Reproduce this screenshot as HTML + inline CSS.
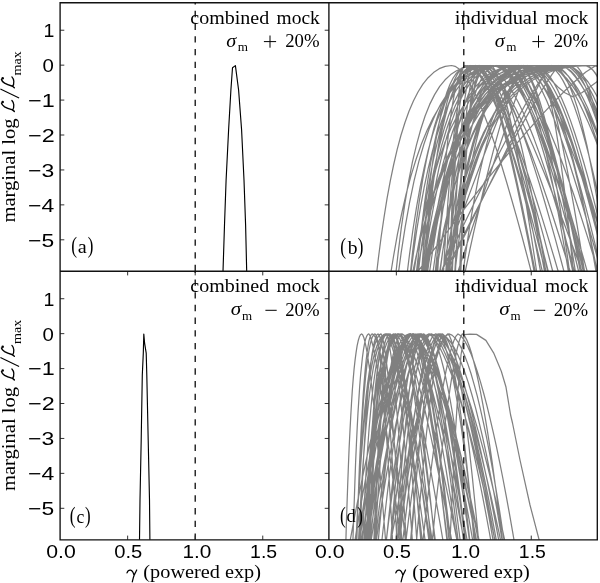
<!DOCTYPE html>
<html><head><meta charset="utf-8"><style>html,body{margin:0;padding:0;background:#fff;}svg{display:block;filter:grayscale(1);}</style></head>
<body><svg width="600" height="583" viewBox="0 0 600 583">
<rect x="0" y="0" width="600" height="583" fill="#fff"/>
<defs><clipPath id="cb"><rect x="328.9" y="2.7" width="268.4" height="268.5"/></clipPath><clipPath id="cd"><rect x="328.9" y="271.2" width="268.4" height="268.6"/></clipPath><clipPath id="ca"><rect x="60.1" y="2.7" width="268.8" height="268.5"/></clipPath><clipPath id="cc"><rect x="60.1" y="271.2" width="268.8" height="268.6"/></clipPath></defs>
<path d="M223.00,271.50 L224.50,225.00 L226.10,180.00 L228.60,130.00 L230.90,90.00 L232.50,67.70 L235.40,65.60 L238.60,90.00 L241.60,130.00 L244.00,180.00 L245.60,225.00 L246.70,271.50" stroke="#000" stroke-width="1.15" fill="none" stroke-linejoin="round" clip-path="url(#ca)"/>
<path d="M139.50,540.20 L140.00,500.00 L141.20,440.00 L142.30,375.00 L143.30,353.10 L143.80,334.00 L144.60,343.10 L146.20,353.10 L146.80,375.00 L148.20,440.00 L149.50,500.00 L149.90,540.20" stroke="#000" stroke-width="1.15" fill="none" stroke-linejoin="round" clip-path="url(#cc)"/>
<path d="M345.7,548.0L346.3,525.8L347.0,504.7L347.7,484.8L348.4,466.1L349.1,448.6L349.9,432.2L350.7,417.1L351.5,403.2L352.3,390.5L353.2,379.1L354.1,368.9L355.1,359.9L356.1,352.3L357.1,345.9L358.2,340.8L359.3,337.1L360.4,334.8L361.6,333.9L362.6,334.8L363.7,337.2L364.8,341.1L365.9,346.2L367.1,352.7L368.3,360.5L369.6,369.5L370.9,379.8L372.2,391.3L373.6,404.0L375.0,417.9L376.4,433.0L377.9,449.3L379.5,466.7L381.1,485.3L382.7,505.0L384.4,525.9L386.2,547.9M352.7,548.5L353.4,524.9L354.2,502.7L354.9,481.9L355.6,462.5L356.4,444.5L357.2,427.8L358.0,412.6L358.9,398.7L359.7,386.2L360.6,375.0L361.6,365.2L362.5,356.8L363.5,349.7L364.5,343.9L365.5,339.5L366.6,336.4L367.7,334.5L368.8,333.9L370.2,336.0L371.5,340.3L373.0,346.0L374.5,353.1L376.0,361.3L377.6,370.6L379.3,380.9L381.0,392.1L382.7,404.1L384.6,417.0L386.4,430.7L388.4,445.1L390.4,460.3L392.5,476.2L394.6,492.8L396.9,510.1L399.2,528.1L401.5,546.7M356.6,547.9L357.3,526.0L358.0,505.2L358.7,485.6L359.4,467.1L360.2,449.7L361.0,433.5L361.8,418.4L362.6,404.5L363.4,391.8L364.3,380.2L365.2,369.9L366.1,360.8L367.0,353.0L368.0,346.5L368.9,341.2L369.9,337.3L371.0,334.9L372.0,333.9L373.4,334.6L374.9,336.6L376.4,340.0L378.0,344.7L379.6,350.7L381.3,358.0L383.0,366.6L384.8,376.6L386.6,387.8L388.5,400.4L390.5,414.3L392.5,429.5L394.6,446.1L396.8,463.9L399.1,483.0L401.4,503.5L403.8,525.3L406.2,548.3M356.3,548.2L357.1,525.5L358.0,504.2L358.8,484.0L359.7,465.1L360.6,447.4L361.5,431.0L362.5,415.9L363.4,402.0L364.5,389.3L365.5,378.0L366.6,367.9L367.7,359.0L368.8,351.5L370.0,345.3L371.2,340.4L372.4,336.9L373.7,334.7L375.0,333.9L375.8,334.8L376.7,337.2L377.6,340.9L378.5,346.0L379.4,352.4L380.3,360.2L381.3,369.1L382.2,379.4L383.2,390.8L384.2,403.5L385.2,417.4L386.3,432.6L387.3,448.9L388.4,466.3L389.5,485.0L390.6,504.8L391.8,525.8L392.9,548.0M359.7,547.7L360.5,526.4L361.3,506.2L362.2,486.9L363.0,468.8L363.9,451.6L364.9,435.6L365.8,420.6L366.8,406.7L367.8,393.9L368.8,382.3L369.8,371.8L370.9,362.5L372.0,354.4L373.2,347.5L374.3,342.0L375.5,337.8L376.7,335.0L378.0,333.9L378.9,334.6L379.8,336.7L380.8,340.1L381.8,344.8L382.8,350.8L383.8,358.1L384.8,366.8L385.8,376.8L386.9,388.1L388.0,400.7L389.1,414.6L390.2,429.8L391.3,446.3L392.5,464.1L393.7,483.2L394.9,503.6L396.1,525.3L397.4,548.3M355.7,547.5L356.7,526.6L357.7,506.7L358.8,487.8L359.9,469.8L361.1,452.9L362.3,436.9L363.6,422.0L364.9,408.1L366.2,395.3L367.6,383.6L369.1,373.0L370.6,363.6L372.2,355.3L373.8,348.2L375.5,342.5L377.3,338.1L379.1,335.1L381.0,333.9L382.0,335.8L383.0,339.7L384.1,345.2L385.1,352.0L386.2,360.0L387.3,369.1L388.4,379.2L389.6,390.2L390.7,402.2L391.9,415.1L393.1,428.9L394.3,443.4L395.6,458.8L396.9,474.9L398.2,491.8L399.5,509.4L400.9,527.8L402.3,546.8M367.2,547.4L368.0,526.8L368.9,507.2L369.7,488.5L370.6,470.7L371.5,453.9L372.4,438.0L373.3,423.2L374.3,409.3L375.3,396.5L376.3,384.7L377.3,374.0L378.3,364.4L379.4,356.0L380.4,348.8L381.5,342.9L382.7,338.3L383.8,335.2L385.0,333.9L386.7,335.0L388.5,337.8L390.4,342.1L392.3,347.7L394.3,354.6L396.3,362.8L398.4,372.1L400.5,382.6L402.8,394.3L405.0,407.1L407.4,421.0L409.8,435.9L412.4,452.0L414.9,469.1L417.6,487.2L420.4,506.3L423.2,526.5L426.1,547.6M365.7,551.1L368.2,530.2L370.6,510.3L373.1,491.3L375.5,473.3L378.0,456.2L380.4,440.1L382.9,424.9L385.3,410.8L387.8,397.8L390.2,385.8L392.7,374.9L395.2,365.1L397.6,356.6L400.1,349.2L402.5,343.1L405.0,338.4L407.4,335.3L409.9,333.9L412.0,337.1L414.2,342.5L416.3,349.5L418.5,357.7L420.6,366.9L422.8,377.0L425.0,387.9L427.1,399.5L429.3,411.9L431.4,424.9L433.6,438.5L435.7,452.7L437.9,467.5L440.0,482.9L442.2,498.7L444.3,515.0L446.5,531.9L448.6,549.2M363.5,550.1L366.4,531.1L369.3,512.7L372.2,495.1L375.1,478.1L378.0,461.9L380.9,446.4L383.8,431.7L386.7,417.8L389.7,404.7L392.6,392.5L395.5,381.2L398.4,370.8L401.3,361.4L404.2,353.1L407.1,346.0L410.0,340.2L412.9,336.0L415.8,333.9L417.8,336.7L419.8,341.8L421.7,348.4L423.7,356.3L425.7,365.2L427.7,375.1L429.7,385.9L431.7,397.5L433.6,409.8L435.6,422.8L437.6,436.6L439.6,450.9L441.6,465.9L443.6,481.5L445.5,497.7L447.5,514.4L449.5,531.6L451.5,549.4M399.0,551.3L401.0,530.0L403.1,509.7L405.1,490.5L407.2,472.2L409.2,454.9L411.3,438.6L413.3,423.5L415.4,409.3L417.4,396.3L419.4,384.4L421.5,373.6L423.5,364.0L425.6,355.6L427.6,348.4L429.7,342.6L431.7,338.1L433.8,335.1L435.8,333.9L439.8,336.4L443.7,341.1L447.6,347.3L451.6,354.8L455.5,363.5L459.5,373.2L463.4,383.8L467.3,395.2L471.3,407.5L475.2,420.6L479.2,434.4L483.1,448.9L487.0,464.2L491.0,480.0L494.9,496.5L498.9,513.7L502.8,531.4L506.7,549.7M348.4,550.0L351.9,531.1L355.3,513.0L358.8,495.4L362.2,478.6L365.7,462.4L369.1,447.0L372.6,432.3L376.1,418.4L379.5,405.4L383.0,393.1L386.4,381.8L389.9,371.3L393.3,361.9L396.8,353.5L400.2,346.3L403.7,340.4L407.2,336.1L410.6,333.9L412.8,335.1L415.0,337.9L417.2,342.2L419.4,347.9L421.6,354.9L423.8,363.2L426.0,372.7L428.2,383.4L430.4,395.3L432.6,408.3L434.8,422.4L437.0,437.6L439.2,454.0L441.4,471.4L443.6,489.8L445.8,509.4L448.0,529.9L450.2,551.5M360.7,551.9L363.6,529.5L366.5,508.3L369.4,488.2L372.3,469.3L375.2,451.6L378.1,435.0L381.0,419.7L383.9,405.5L386.8,392.6L389.7,380.8L392.6,370.4L395.5,361.1L398.4,353.2L401.3,346.6L404.2,341.3L407.1,337.3L410.0,334.9L412.9,333.9L414.9,336.7L416.8,341.8L418.8,348.4L420.7,356.3L422.7,365.2L424.6,375.1L426.6,385.9L428.5,397.5L430.4,409.8L432.4,422.8L434.3,436.6L436.3,450.9L438.2,465.9L440.2,481.5L442.1,497.7L444.1,514.4L446.0,531.6L448.0,549.4M380.9,549.8L382.9,531.3L385.0,513.5L387.0,496.2L389.0,479.6L391.0,463.7L393.0,448.4L395.1,433.8L397.1,420.0L399.1,406.9L401.1,394.6L403.2,383.2L405.2,372.6L407.2,363.0L409.2,354.5L411.2,347.0L413.3,340.9L415.3,336.3L417.3,333.9L420.8,336.4L424.3,341.1L427.8,347.4L431.2,355.0L434.7,363.6L438.2,373.3L441.7,383.9L445.2,395.4L448.7,407.7L452.2,420.8L455.6,434.6L459.1,449.1L462.6,464.3L466.1,480.2L469.6,496.6L473.1,513.7L476.6,531.4L480.0,549.7M373.9,548.1L374.9,525.7L375.9,504.5L376.9,484.5L377.9,465.7L379.0,448.1L380.1,431.7L381.2,416.6L382.3,402.7L383.5,390.0L384.7,378.6L385.9,368.4L387.1,359.6L388.4,352.0L389.7,345.6L391.0,340.7L392.4,337.0L393.7,334.8L395.2,333.9L396.4,335.5L397.7,339.1L398.9,344.1L400.3,350.5L401.6,358.2L402.9,367.0L404.3,376.9L405.7,387.8L407.2,399.7L408.6,412.5L410.1,426.3L411.7,441.0L413.2,456.6L414.8,473.1L416.4,490.4L418.0,508.5L419.7,527.4L421.4,547.1M362.6,550.2L365.4,531.0L368.2,512.5L371.1,494.7L373.9,477.6L376.7,461.3L379.5,445.8L382.3,431.0L385.1,417.1L387.9,404.0L390.7,391.8L393.5,380.5L396.3,370.2L399.1,360.9L401.9,352.7L404.7,345.7L407.5,340.0L410.3,335.9L413.2,333.9L415.7,334.9L418.3,337.5L420.9,341.5L423.4,346.8L426.0,353.6L428.6,361.6L431.1,370.9L433.7,381.4L436.3,393.2L438.8,406.1L441.4,420.3L444.0,435.6L446.5,452.1L449.1,469.8L451.7,488.6L454.2,508.5L456.8,529.6L459.4,551.8M374.0,551.5L376.5,529.9L379.0,509.3L381.6,489.7L384.1,471.2L386.7,453.8L389.2,437.4L391.7,422.2L394.3,408.0L396.8,395.0L399.3,383.1L401.9,372.5L404.4,363.0L407.0,354.7L409.5,347.8L412.0,342.1L414.6,337.8L417.1,335.0L419.6,333.9L422.7,336.8L425.7,342.1L428.7,348.8L431.8,356.8L434.8,365.8L437.8,375.8L440.9,386.6L443.9,398.2L446.9,410.6L450.0,423.6L453.0,437.3L456.0,451.6L459.1,466.5L462.1,482.0L465.1,498.0L468.2,514.6L471.2,531.7L474.2,549.3M396.5,551.4L398.3,530.0L400.1,509.6L401.9,490.3L403.6,471.9L405.4,454.6L407.2,438.4L409.0,423.2L410.8,409.0L412.6,396.0L414.3,384.1L416.1,373.3L417.9,363.7L419.7,355.4L421.5,348.3L423.3,342.5L425.0,338.0L426.8,335.1L428.6,333.9L432.4,336.6L436.2,341.5L440.0,348.0L443.8,355.7L447.6,364.5L451.4,374.3L455.2,385.0L459.0,396.6L462.8,408.9L466.6,421.9L470.4,435.7L474.2,450.1L478.0,465.2L481.8,480.9L485.6,497.2L489.3,514.1L493.1,531.5L496.9,549.5M368.6,548.7L369.6,524.7L370.5,502.1L371.6,481.0L372.6,461.4L373.7,443.2L374.8,426.5L375.9,411.2L377.0,397.3L378.2,384.9L379.4,373.8L380.7,364.2L381.9,355.9L383.2,349.0L384.5,343.4L385.9,339.2L387.3,336.2L388.7,334.5L390.2,333.9L392.0,335.6L393.9,339.3L395.9,344.5L397.9,351.0L399.9,358.8L402.1,367.6L404.3,377.6L406.5,388.6L408.9,400.5L411.3,413.4L413.7,427.2L416.3,441.8L418.9,457.3L421.6,473.7L424.4,490.8L427.2,508.8L430.2,527.5L433.2,547.0M363.5,548.1L364.9,525.6L366.4,504.3L368.0,484.3L369.7,465.4L371.4,447.8L373.2,431.4L375.1,416.3L377.0,402.4L379.1,389.7L381.2,378.3L383.4,368.2L385.7,359.3L388.1,351.8L390.6,345.5L393.2,340.6L395.9,337.0L398.7,334.7L401.7,333.9L404.1,335.2L406.5,338.3L409.0,342.9L411.6,348.9L414.3,356.1L417.1,364.5L420.0,374.1L422.9,384.8L426.0,396.6L429.1,409.4L432.4,423.3L435.8,438.1L439.2,454.0L442.8,470.8L446.5,488.6L450.3,507.2L454.3,526.9L458.4,547.4M369.9,548.7L370.8,524.6L371.7,502.0L372.7,480.8L373.7,461.1L374.7,442.9L375.7,426.2L376.8,410.9L377.8,397.0L378.9,384.6L380.1,373.5L381.2,363.9L382.4,355.7L383.6,348.8L384.8,343.3L386.1,339.1L387.3,336.1L388.6,334.5L390.0,333.9L391.1,335.5L392.2,339.1L393.3,344.2L394.5,350.6L395.6,358.2L396.8,367.0L398.0,376.9L399.3,387.8L400.5,399.8L401.8,412.6L403.1,426.4L404.4,441.1L405.7,456.7L407.1,473.1L408.5,490.4L409.9,508.5L411.4,527.4L412.8,547.1M374.8,551.4L377.8,530.0L380.8,509.6L383.9,490.2L386.9,471.8L390.0,454.5L393.0,438.2L396.1,423.0L399.1,408.9L402.1,395.9L405.2,384.0L408.2,373.2L411.3,363.7L414.3,355.3L417.4,348.2L420.4,342.4L423.4,338.0L426.5,335.1L429.5,333.9L431.8,335.5L434.1,339.1L436.4,344.3L438.7,350.8L441.1,358.6L443.4,367.5L445.7,377.5L448.0,388.6L450.3,400.7L452.6,413.8L454.9,427.8L457.2,442.8L459.5,458.6L461.8,475.4L464.1,492.9L466.4,511.4L468.7,530.6L471.0,550.6M385.3,551.0L387.4,530.3L389.5,510.4L391.6,491.4L393.7,473.4L395.8,456.4L397.9,440.3L400.0,425.2L402.1,411.1L404.2,398.0L406.3,386.0L408.4,375.1L410.5,365.3L412.6,356.7L414.7,349.3L416.8,343.2L418.9,338.5L421.0,335.3L423.1,333.9L425.3,337.4L427.4,343.1L429.5,350.4L431.6,358.8L433.7,368.2L435.8,378.4L438.0,389.4L440.1,401.1L442.2,413.5L444.3,426.5L446.4,440.0L448.6,454.1L450.7,468.8L452.8,483.9L454.9,499.5L457.0,515.5L459.1,532.0L461.3,549.0M366.1,548.5L367.1,524.9L368.0,502.7L369.0,481.9L370.1,462.4L371.1,444.4L372.2,427.8L373.3,412.5L374.4,398.6L375.5,386.1L376.7,375.0L377.9,365.2L379.2,356.7L380.4,349.7L381.7,343.9L383.1,339.5L384.5,336.4L385.9,334.5L387.3,333.9L388.9,335.0L390.5,337.7L392.1,341.8L393.8,347.3L395.6,354.0L397.4,362.1L399.2,371.3L401.1,381.8L403.0,393.4L405.0,406.2L407.1,420.1L409.2,435.1L411.3,451.2L413.5,468.4L415.8,486.6L418.2,505.9L420.6,526.3L423.0,547.7M401.7,549.4L403.8,531.7L405.9,514.5L407.9,497.8L410.0,481.7L412.1,466.1L414.2,451.1L416.2,436.8L418.3,423.1L420.4,410.0L422.4,397.7L424.5,386.1L426.6,375.3L428.7,365.4L430.7,356.5L432.8,348.6L434.9,341.9L436.9,336.8L439.0,333.9L442.5,337.6L446.1,343.7L449.6,351.2L453.1,359.8L456.6,369.3L460.1,379.7L463.7,390.8L467.2,402.5L470.7,414.9L474.2,427.8L477.7,441.3L481.3,455.3L484.8,469.8L488.3,484.8L491.8,500.1L495.3,516.0L498.9,532.2L502.4,548.8M409.8,549.9L411.4,531.2L413.0,513.2L414.5,495.7L416.1,479.0L417.7,462.9L419.2,447.6L420.8,432.9L422.4,419.1L423.9,406.0L425.5,393.7L427.1,382.3L428.6,371.8L430.2,362.3L431.8,353.9L433.4,346.6L434.9,340.6L436.5,336.2L438.1,333.9L440.2,335.6L442.3,339.3L444.4,344.5L446.5,351.1L448.7,358.9L450.8,367.9L452.9,378.0L455.0,389.1L457.1,401.3L459.3,414.4L461.4,428.4L463.5,443.3L465.6,459.1L467.7,475.7L469.9,493.2L472.0,511.6L474.1,530.7L476.2,550.6M389.8,551.6L391.5,529.8L393.3,509.1L395.0,489.4L396.7,470.8L398.5,453.3L400.2,436.9L401.9,421.7L403.6,407.5L405.4,394.5L407.1,382.7L408.8,372.0L410.6,362.6L412.3,354.4L414.0,347.5L415.8,341.9L417.5,337.7L419.2,335.0L421.0,333.9L423.5,334.9L426.1,337.4L428.6,341.3L431.1,346.6L433.7,353.3L436.2,361.3L438.8,370.5L441.3,381.0L443.9,392.7L446.4,405.7L449.0,419.9L451.5,435.2L454.1,451.8L456.6,469.5L459.1,488.3L461.7,508.4L464.2,529.6L466.8,551.9M366.0,550.6L369.0,530.6L371.9,511.5L374.8,493.1L377.8,475.6L380.7,458.9L383.6,443.0L386.6,428.1L389.5,414.1L392.4,401.0L395.4,388.9L398.3,377.8L401.3,367.7L404.2,358.7L407.1,350.9L410.1,344.4L413.0,339.2L415.9,335.6L418.9,333.9L422.2,337.0L425.5,342.5L428.8,349.4L432.1,357.5L435.3,366.7L438.6,376.8L441.9,387.6L445.2,399.3L448.5,411.6L451.8,424.7L455.1,438.3L458.4,452.5L461.7,467.3L465.0,482.7L468.3,498.6L471.6,515.0L474.9,531.8L478.2,549.2M373.6,548.6L374.5,524.7L375.5,502.3L376.4,481.3L377.4,461.7L378.4,443.6L379.5,426.9L380.5,411.6L381.6,397.8L382.7,385.3L383.8,374.2L385.0,364.5L386.1,356.2L387.3,349.2L388.5,343.6L389.8,339.3L391.0,336.3L392.3,334.5L393.7,333.9L394.8,334.9L395.9,337.4L397.1,341.3L398.3,346.6L399.5,353.2L400.7,361.1L402.0,370.2L403.3,380.5L404.6,392.0L405.9,404.8L407.2,418.7L408.6,433.7L410.0,450.0L411.4,467.3L412.9,485.8L414.3,505.4L415.8,526.1L417.3,547.9M355.8,548.2L356.9,525.5L358.1,504.1L359.4,484.0L360.7,465.0L362.0,447.4L363.4,430.9L364.9,415.8L366.4,401.9L368.0,389.2L369.7,377.9L371.4,367.8L373.2,359.0L375.1,351.5L377.1,345.3L379.1,340.4L381.3,336.9L383.5,334.7L385.8,333.9L386.8,335.1L387.8,338.1L388.9,342.5L389.9,348.3L391.0,355.4L392.1,363.7L393.2,373.2L394.3,383.8L395.5,395.6L396.6,408.4L397.8,422.3L399.0,437.2L400.2,453.1L401.5,470.0L402.8,487.9L404.1,506.8L405.4,526.7L406.7,547.5M358.2,551.9L361.3,529.5L364.4,508.2L367.5,488.1L370.6,469.2L373.7,451.4L376.8,434.9L379.9,419.5L383.0,405.3L386.1,392.4L389.2,380.7L392.3,370.2L395.4,361.0L398.5,353.1L401.7,346.5L404.8,341.2L407.9,337.3L411.0,334.8L414.1,333.9L416.5,337.3L419.0,343.1L421.4,350.3L423.8,358.7L426.3,368.0L428.7,378.3L431.2,389.3L433.6,401.0L436.1,413.3L438.5,426.3L441.0,439.9L443.4,454.0L445.9,468.6L448.3,483.8L450.8,499.4L453.2,515.5L455.7,532.0L458.1,549.0M362.2,548.6L363.2,524.8L364.4,502.4L365.5,481.4L366.7,461.9L368.0,443.8L369.2,427.1L370.6,411.8L371.9,397.9L373.3,385.4L374.8,374.3L376.3,364.6L377.8,356.3L379.4,349.3L381.1,343.6L382.8,339.3L384.6,336.3L386.4,334.5L388.3,333.9L390.1,334.8L391.9,337.3L393.8,341.1L395.7,346.3L397.7,352.8L399.8,360.6L401.9,369.7L404.1,380.0L406.4,391.5L408.7,404.2L411.1,418.1L413.5,433.2L416.1,449.4L418.7,466.9L421.4,485.4L424.1,505.1L427.0,526.0L429.9,547.9M363.9,548.6L365.1,524.7L366.4,502.3L367.8,481.3L369.2,461.7L370.7,443.6L372.2,426.8L373.8,411.6L375.4,397.7L377.1,385.2L378.9,374.1L380.7,364.5L382.6,356.1L384.6,349.2L386.6,343.6L388.7,339.2L390.9,336.2L393.1,334.5L395.5,333.9L397.5,335.3L399.6,338.6L401.8,343.4L404.1,349.5L406.4,356.9L408.8,365.5L411.3,375.2L413.8,385.9L416.5,397.8L419.2,410.6L422.0,424.5L424.9,439.3L427.8,455.0L430.9,471.7L434.1,489.3L437.3,507.7L440.7,527.1L444.1,547.3M365.6,548.6L366.9,524.9L368.3,502.6L369.7,481.7L371.2,462.2L372.7,444.1L374.3,427.5L375.9,412.2L377.6,398.3L379.4,385.8L381.2,374.7L383.1,365.0L385.0,356.6L387.1,349.5L389.2,343.8L391.3,339.4L393.6,336.3L395.9,334.5L398.3,333.9L400.6,335.2L402.9,338.3L405.4,343.0L407.9,348.9L410.5,356.1L413.2,364.6L415.9,374.2L418.8,384.9L421.7,396.7L424.8,409.5L427.9,423.4L431.2,438.2L434.5,454.0L438.0,470.8L441.6,488.6L445.3,507.3L449.1,526.9L453.1,547.4M358.2,548.1L359.3,525.7L360.5,504.5L361.7,484.6L362.9,465.8L364.3,448.2L365.6,431.9L367.0,416.8L368.5,402.8L370.0,390.2L371.6,378.7L373.2,368.6L374.9,359.7L376.7,352.0L378.6,345.7L380.5,340.7L382.5,337.0L384.5,334.8L386.7,333.9L388.5,335.0L390.4,337.6L392.4,341.7L394.5,347.2L396.6,353.9L398.7,362.0L401.0,371.2L403.3,381.6L405.7,393.3L408.2,406.0L410.7,419.9L413.4,434.9L416.1,451.0L418.9,468.2L421.8,486.5L424.8,505.9L427.9,526.3L431.0,547.7M369.0,550.7L371.3,530.6L373.6,511.3L375.9,492.8L378.2,475.2L380.5,458.4L382.8,442.5L385.2,427.6L387.5,413.5L389.8,400.5L392.1,388.4L394.4,377.3L396.7,367.3L399.0,358.4L401.3,350.6L403.6,344.2L405.9,339.1L408.2,335.5L410.5,333.9L413.6,337.3L416.6,343.0L419.7,350.2L422.7,358.6L425.8,367.9L428.8,378.2L431.9,389.1L434.9,400.8L438.0,413.2L441.0,426.2L444.1,439.8L447.1,453.9L450.2,468.5L453.2,483.7L456.3,499.3L459.3,515.4L462.4,532.0L465.4,549.0M357.1,551.6L360.0,529.8L362.9,509.2L365.8,489.5L368.7,471.0L371.6,453.5L374.5,437.2L377.4,421.9L380.3,407.7L383.2,394.7L386.1,382.9L389.0,372.2L391.9,362.8L394.8,354.6L397.7,347.6L400.5,342.0L403.4,337.8L406.3,335.0L409.2,333.9L413.2,335.3L417.2,338.5L421.2,343.2L425.2,349.2L429.2,356.6L433.2,365.2L437.2,375.0L441.2,385.9L445.1,397.9L449.1,410.9L453.1,425.0L457.1,440.1L461.1,456.2L465.1,473.3L469.1,491.4L473.1,510.3L477.1,530.2L481.1,551.1M389.6,550.6L391.9,530.6L394.2,511.5L396.5,493.1L398.9,475.6L401.2,458.9L403.5,443.1L405.8,428.2L408.1,414.2L410.5,401.1L412.8,389.0L415.1,377.8L417.4,367.8L419.7,358.8L422.1,351.0L424.4,344.4L426.7,339.2L429.0,335.6L431.3,333.9L434.7,335.9L438.1,340.1L441.5,345.8L444.9,352.9L448.3,361.1L451.7,370.4L455.1,380.8L458.5,392.1L461.9,404.3L465.3,417.4L468.7,431.3L472.1,446.0L475.5,461.6L478.9,477.8L482.3,494.8L485.7,512.6L489.1,531.0L492.5,550.1M353.3,551.1L356.6,530.2L360.0,510.2L363.3,491.1L366.7,473.0L370.0,455.8L373.4,439.7L376.7,424.6L380.1,410.5L383.4,397.4L386.8,385.4L390.1,374.6L393.5,364.8L396.8,356.3L400.2,349.0L403.5,343.0L406.9,338.3L410.2,335.2L413.6,333.9L415.5,337.5L417.4,343.5L419.3,351.0L421.2,359.5L423.1,369.0L425.0,379.4L426.9,390.4L428.8,402.2L430.7,414.5L432.6,427.5L434.5,441.0L436.5,455.0L438.4,469.5L440.3,484.5L442.2,500.0L444.1,515.9L446.0,532.1L447.9,548.8M369.7,549.5L372.5,531.6L375.3,514.3L378.1,497.5L380.9,481.2L383.7,465.6L386.5,450.6L389.3,436.1L392.1,422.4L395.0,409.4L397.8,397.0L400.6,385.5L403.4,374.7L406.2,364.9L409.0,356.0L411.8,348.2L414.6,341.7L417.4,336.7L420.2,333.9L423.0,335.3L425.9,338.6L428.7,343.4L431.5,349.6L434.3,357.0L437.1,365.7L439.9,375.5L442.8,386.5L445.6,398.5L448.4,411.6L451.2,425.7L454.0,440.7L456.8,456.8L459.7,473.8L462.5,491.7L465.3,510.6L468.1,530.3L470.9,551.0M366.3,551.7L368.8,529.7L371.4,508.8L374.0,489.1L376.5,470.4L379.1,452.8L381.7,436.4L384.2,421.1L386.8,406.9L389.4,393.9L391.9,382.1L394.5,371.5L397.1,362.2L399.6,354.0L402.2,347.2L404.8,341.7L407.4,337.6L409.9,335.0L412.5,333.9L415.6,336.6L418.7,341.5L421.9,347.9L425.0,355.6L428.1,364.4L431.2,374.2L434.3,384.9L437.5,396.4L440.6,408.7L443.7,421.8L446.8,435.5L450.0,450.0L453.1,465.1L456.2,480.8L459.3,497.1L462.5,514.0L465.6,531.5L468.7,549.6M395.2,550.9L396.7,530.4L398.1,510.7L399.6,492.0L401.0,474.1L402.5,457.1L404.0,441.1L405.4,426.1L406.9,412.0L408.3,398.9L409.8,386.9L411.2,375.9L412.7,366.1L414.2,357.3L415.6,349.8L417.1,343.6L418.5,338.7L420.0,335.4L421.4,333.9L423.8,336.8L426.2,341.9L428.7,348.6L431.1,356.5L433.5,365.4L435.9,375.4L438.3,386.1L440.7,397.7L443.1,410.1L445.5,423.1L447.9,436.8L450.3,451.2L452.7,466.1L455.1,481.7L457.5,497.8L459.9,514.5L462.3,531.7L464.7,549.4M377.4,550.8L379.2,530.4L381.1,510.9L382.9,492.2L384.7,474.4L386.5,457.5L388.3,441.5L390.1,426.5L392.0,412.4L393.8,399.3L395.6,387.3L397.4,376.3L399.2,366.4L401.1,357.6L402.9,350.0L404.7,343.7L406.5,338.8L408.3,335.4L410.2,333.9L413.9,335.9L417.7,340.1L421.5,345.8L425.3,352.8L429.1,361.1L432.9,370.4L436.7,380.7L440.5,392.0L444.3,404.2L448.1,417.3L451.8,431.3L455.6,446.0L459.4,461.5L463.2,477.8L467.0,494.8L470.8,512.6L474.6,531.0L478.4,550.2M363.6,548.2L365.0,525.4L366.5,503.9L368.1,483.7L369.7,464.7L371.3,446.9L373.1,430.5L374.9,415.3L376.7,401.4L378.7,388.8L380.7,377.4L382.8,367.4L385.0,358.7L387.3,351.2L389.7,345.1L392.2,340.3L394.8,336.8L397.5,334.7L400.3,333.9L401.9,335.6L403.6,339.3L405.3,344.5L407.0,351.0L408.8,358.7L410.6,367.6L412.5,377.6L414.4,388.5L416.4,400.5L418.4,413.3L420.4,427.1L422.5,441.8L424.6,457.3L426.8,473.6L429.0,490.8L431.3,508.8L433.7,527.5L436.1,547.0M396.4,551.7L398.8,529.7L401.2,508.9L403.6,489.1L406.0,470.5L408.5,452.9L410.9,436.5L413.3,421.2L415.7,407.0L418.1,394.0L420.5,382.2L423.0,371.6L425.4,362.3L427.8,354.1L430.2,347.3L432.6,341.8L435.0,337.6L437.5,335.0L439.9,333.9L443.4,335.0L447.0,337.8L450.6,342.0L454.1,347.6L457.7,354.6L461.2,362.8L464.8,372.2L468.4,382.9L471.9,394.7L475.5,407.7L479.0,421.9L482.6,437.1L486.2,453.5L489.7,471.0L493.3,489.5L496.9,509.2L500.4,529.8L504.0,551.6M398.2,549.8L400.5,531.4L402.8,513.6L405.1,496.4L407.4,479.8L409.7,463.9L412.0,448.7L414.3,434.1L416.7,420.3L419.0,407.2L421.3,394.9L423.6,383.5L425.9,372.9L428.2,363.3L430.5,354.7L432.8,347.2L435.1,341.0L437.5,336.3L439.8,333.9L442.8,337.0L445.9,342.5L448.9,349.5L452.0,357.6L455.0,366.8L458.1,376.8L461.1,387.7L464.2,399.4L467.2,411.7L470.3,424.8L473.3,438.4L476.4,452.6L479.4,467.4L482.5,482.8L485.5,498.6L488.6,515.0L491.6,531.9L494.7,549.2M385.0,551.5L387.6,529.9L390.1,509.4L392.7,489.9L395.3,471.5L397.8,454.1L400.4,437.8L403.0,422.5L405.5,408.4L408.1,395.4L410.7,383.5L413.2,372.8L415.8,363.3L418.4,355.0L420.9,347.9L423.5,342.2L426.1,337.9L428.6,335.1L431.2,333.9L434.8,335.3L438.5,338.5L442.1,343.3L445.7,349.4L449.4,356.9L453.0,365.5L456.6,375.3L460.3,386.2L463.9,398.2L467.5,411.3L471.2,425.4L474.8,440.5L478.4,456.5L482.1,473.6L485.7,491.6L489.3,510.5L493.0,530.3L496.6,551.0M359.0,549.3L362.6,531.8L366.2,514.7L369.9,498.2L373.5,482.2L377.1,466.8L380.7,451.9L384.3,437.6L387.9,423.9L391.5,410.9L395.1,398.6L398.7,386.9L402.3,376.1L405.9,366.1L409.5,357.0L413.1,349.0L416.7,342.2L420.3,336.9L423.9,333.9L426.3,335.9L428.6,340.0L431.0,345.7L433.3,352.7L435.7,360.9L438.0,370.2L440.4,380.5L442.7,391.8L445.1,404.0L447.4,417.1L449.8,431.1L452.1,445.8L454.5,461.4L456.8,477.7L459.2,494.7L461.5,512.5L463.9,531.0L466.2,550.2M374.8,547.8L376.0,526.2L377.3,505.6L378.6,486.1L379.9,467.8L381.2,450.5L382.6,434.3L384.0,419.3L385.5,405.4L387.0,392.6L388.5,381.1L390.1,370.7L391.7,361.5L393.4,353.6L395.1,346.9L396.8,341.5L398.6,337.5L400.5,334.9L402.3,333.9L403.9,335.0L405.4,337.6L407.0,341.7L408.7,347.2L410.3,353.9L412.0,361.9L413.8,371.2L415.5,381.6L417.3,393.2L419.2,406.0L421.1,419.9L423.0,434.9L424.9,451.0L426.9,468.2L429.0,486.5L431.1,505.9L433.2,526.3L435.4,547.7M368.2,548.5L369.5,524.9L370.7,502.8L372.1,482.0L373.4,462.6L374.8,444.6L376.3,427.9L377.8,412.7L379.3,398.8L380.9,386.3L382.5,375.1L384.2,365.3L386.0,356.9L387.8,349.8L389.6,344.0L391.5,339.5L393.5,336.4L395.5,334.5L397.6,333.9L399.2,334.6L400.8,336.6L402.4,340.0L404.1,344.7L405.8,350.6L407.5,358.0L409.3,366.6L411.1,376.5L413.0,387.8L414.9,400.4L416.8,414.3L418.8,429.5L420.8,446.0L422.9,463.9L425.0,483.0L427.2,503.5L429.4,525.3L431.7,548.3M396.7,548.8L399.1,532.1L401.6,515.8L404.1,500.0L406.5,484.5L409.0,469.5L411.5,455.0L413.9,441.0L416.4,427.5L418.9,414.5L421.3,402.1L423.8,390.4L426.2,379.3L428.7,369.0L431.2,359.5L433.6,351.0L436.1,343.5L438.6,337.5L441.0,333.9L442.9,335.0L444.8,337.8L446.7,342.1L448.6,347.7L450.5,354.7L452.4,362.9L454.3,372.4L456.1,383.0L458.0,394.9L459.9,407.9L461.8,422.0L463.7,437.3L465.6,453.6L467.5,471.1L469.4,489.6L471.2,509.2L473.1,529.9L475.0,551.5M410.5,550.6L412.0,530.7L413.6,511.6L415.1,493.3L416.6,475.8L418.2,459.1L419.7,443.3L421.2,428.4L422.7,414.4L424.3,401.3L425.8,389.2L427.3,378.0L428.8,368.0L430.4,359.0L431.9,351.1L433.4,344.5L434.9,339.3L436.5,335.6L438.0,333.9L441.3,336.4L444.7,341.0L448.0,347.3L451.3,354.8L454.7,363.4L458.0,373.1L461.4,383.7L464.7,395.1L468.0,407.4L471.4,420.5L474.7,434.3L478.0,448.8L481.4,464.1L484.7,479.9L488.1,496.5L491.4,513.6L494.7,531.4L498.1,549.7M389.4,549.2L392.6,531.9L395.9,515.0L399.1,498.6L402.3,482.8L405.6,467.4L408.8,452.6L412.1,438.4L415.3,424.8L418.5,411.8L421.8,399.4L425.0,387.8L428.3,376.9L431.5,366.8L434.8,357.6L438.0,349.5L441.2,342.5L444.5,337.0L447.7,333.9L449.5,335.9L451.2,340.0L453.0,345.7L454.8,352.7L456.5,360.8L458.3,370.1L460.1,380.4L461.8,391.7L463.6,403.9L465.3,417.0L467.1,431.0L468.9,445.7L470.6,461.3L472.4,477.6L474.1,494.7L475.9,512.5L477.7,531.0L479.4,550.2M415.8,549.5L417.3,531.6L418.8,514.2L420.3,497.4L421.8,481.1L423.3,465.4L424.8,450.4L426.2,436.0L427.7,422.2L429.2,409.2L430.7,396.9L432.2,385.3L433.7,374.6L435.2,364.8L436.7,355.9L438.1,348.1L439.6,341.6L441.1,336.6L442.6,333.9L445.8,337.0L449.0,342.5L452.2,349.4L455.4,357.5L458.7,366.7L461.9,376.7L465.1,387.6L468.3,399.3L471.5,411.6L474.7,424.6L477.9,438.3L481.1,452.5L484.3,467.3L487.6,482.7L490.8,498.6L494.0,515.0L497.2,531.8L500.4,549.2M404.7,550.8L407.2,530.4L409.6,510.9L412.1,492.2L414.5,474.5L417.0,457.6L419.4,441.6L421.9,426.6L424.3,412.5L426.8,399.4L429.2,387.4L431.7,376.4L434.1,366.5L436.6,357.7L439.0,350.1L441.5,343.8L443.9,338.8L446.4,335.4L448.9,333.9L452.0,335.1L455.2,338.1L458.3,342.5L461.5,348.4L464.6,355.5L467.8,363.9L471.0,373.5L474.1,384.3L477.3,396.2L480.4,409.2L483.6,423.4L486.8,438.6L489.9,454.8L493.1,472.1L496.2,490.4L499.4,509.7L502.5,530.0L505.7,551.3M431.5,549.4L433.2,531.7L434.9,514.5L436.6,497.8L438.4,481.7L440.1,466.2L441.8,451.2L443.5,436.9L445.2,423.2L446.9,410.1L448.7,397.8L450.4,386.2L452.1,375.4L453.8,365.5L455.5,356.5L457.2,348.6L459.0,341.9L460.7,336.8L462.4,333.9L464.7,336.1L467.0,340.4L469.3,346.2L471.6,353.4L473.8,361.8L476.1,371.2L478.4,381.6L480.7,393.0L483.0,405.2L485.3,418.3L487.6,432.2L489.9,446.9L492.2,462.3L494.4,478.5L496.7,495.3L499.0,512.9L501.3,531.1L503.6,550.0M421.9,550.0L424.0,531.1L426.0,512.9L428.0,495.3L430.0,478.5L432.0,462.3L434.0,446.9L436.0,432.2L438.0,418.3L440.0,405.2L442.0,393.0L444.0,381.6L446.0,371.2L448.0,361.8L450.0,353.4L452.0,346.2L454.0,340.4L456.0,336.1L458.0,333.9L461.2,336.1L464.4,340.4L467.6,346.2L470.8,353.4L474.0,361.8L477.2,371.2L480.4,381.6L483.6,393.0L486.8,405.2L490.0,418.3L493.2,432.2L496.5,446.9L499.7,462.3L502.9,478.5L506.1,495.3L509.3,512.9L512.5,531.1L515.7,550.0M450.0,540.5L452.0,500.0L455.0,440.0L458.0,390.0L461.0,355.0L464.3,334.6L470.0,334.2L476.6,334.4L485.9,340.4L493.6,352.8L501.3,371.3L505.9,386.7L510.6,415.0L512.5,423.0L520.0,460.0L530.0,505.0L539.3,540.5" stroke="#808080" stroke-width="1.25" fill="none" stroke-linejoin="round" clip-path="url(#cd)"/>
<path d="M375.9,279.4L378.5,257.4L381.2,236.5L384.1,216.8L387.1,198.2L390.3,180.8L393.7,164.5L397.2,149.4L400.9,135.5L404.9,122.8L409.0,111.3L413.4,101.0L418.0,92.0L422.9,84.2L428.1,77.7L433.5,72.6L439.2,68.7L445.2,66.3L451.6,65.5L455.1,66.3L458.8,68.7L462.5,72.6L466.3,77.7L470.3,84.2L474.3,92.0L478.5,101.0L482.8,111.3L487.2,122.8L491.8,135.5L496.5,149.4L501.3,164.5L506.2,180.8L511.3,198.2L516.6,216.8L522.0,236.5L527.5,257.4L533.2,279.4M389.7,280.0L393.5,256.5L397.4,234.3L401.7,213.5L406.1,194.1L410.9,176.1L416.0,159.5L421.3,144.2L427.0,130.4L433.1,117.8L439.5,106.7L446.3,96.9L453.5,88.4L461.2,81.3L469.4,75.5L478.0,71.1L487.2,67.9L497.0,66.0L507.4,65.5L510.9,65.8L514.4,67.2L518.1,69.7L521.8,73.5L525.6,78.6L529.4,85.0L533.4,92.8L537.4,102.0L541.5,112.8L545.6,125.0L549.9,138.8L554.2,154.2L558.6,171.1L563.1,189.7L567.7,209.9L572.4,231.8L577.2,255.4L582.1,280.7M394.9,281.9L398.1,253.4L401.4,227.2L404.9,203.3L408.6,181.7L412.4,162.2L416.5,144.9L420.7,129.5L425.1,116.0L429.7,104.4L434.6,94.6L439.7,86.4L445.1,79.8L450.7,74.6L456.5,70.7L462.7,68.0L469.1,66.4L475.9,65.6L483.0,65.5L486.7,66.6L490.6,69.4L494.5,73.6L498.5,79.3L502.6,86.2L506.8,94.4L511.1,103.8L515.5,114.3L520.1,126.0L524.7,138.8L529.4,152.6L534.3,167.6L539.3,183.6L544.4,200.7L549.6,218.8L555.0,237.9L560.4,258.0L566.0,279.1M409.4,282.3L412.5,252.7L415.8,225.6L419.3,201.1L422.8,179.0L426.5,159.3L430.4,141.8L434.4,126.5L438.6,113.2L442.9,101.9L447.4,92.4L452.1,84.5L457.0,78.3L462.0,73.5L467.3,70.0L472.8,67.6L478.4,66.2L484.4,65.6L490.5,65.5L492.8,66.9L495.2,70.3L497.5,75.3L500.0,81.5L502.4,89.1L504.9,97.7L507.4,107.5L510.0,118.4L512.6,130.3L515.2,143.1L517.9,156.9L520.6,171.7L523.3,187.4L526.1,203.9L528.9,221.3L531.8,239.6L534.7,258.7L537.7,278.7M410.9,280.8L416.5,255.2L422.4,231.4L428.8,209.3L435.5,188.9L442.8,170.2L450.5,153.2L458.7,137.9L467.5,124.1L476.9,111.9L487.0,101.2L497.7,92.1L509.2,84.4L521.4,78.1L534.4,73.2L548.4,69.5L563.3,67.1L579.2,65.8L596.1,65.5L600.7,66.3L605.4,68.6L610.1,72.4L614.9,77.5L619.8,83.9L624.8,91.6L629.9,100.5L635.0,110.8L640.3,122.2L645.6,134.9L651.0,148.8L656.6,163.9L662.2,180.2L667.9,197.7L673.7,216.4L679.6,236.3L685.6,257.3L691.7,279.5M412.3,282.1L416.9,253.1L421.9,226.5L427.1,202.4L432.6,180.6L438.4,161.0L444.5,143.6L450.9,128.2L457.8,114.8L465.0,103.3L472.6,93.6L480.6,85.6L489.1,79.1L498.1,74.1L507.5,70.4L517.5,67.8L528.0,66.3L539.2,65.6L550.9,65.5L555.3,67.4L559.7,71.5L564.3,77.1L568.9,84.0L573.6,92.1L578.4,101.3L583.3,111.4L588.3,122.6L593.4,134.6L598.6,147.5L603.9,161.2L609.3,175.7L614.8,191.0L620.4,207.0L626.1,223.8L631.9,241.3L637.9,259.4L643.9,278.3M414.9,282.2L420.6,252.8L426.7,226.0L433.3,201.6L440.3,179.6L447.7,160.0L455.7,142.5L464.1,127.2L473.2,113.8L482.8,102.4L493.1,92.8L504.1,84.9L515.8,78.6L528.3,73.7L541.7,70.1L555.9,67.7L571.1,66.2L587.3,65.6L604.6,65.5L607.8,66.6L611.0,69.5L614.3,73.9L617.7,79.6L621.0,86.6L624.4,94.9L627.9,104.3L631.4,114.9L634.9,126.6L638.5,139.4L642.1,153.3L645.8,168.2L649.5,184.2L653.2,201.2L657.0,219.2L660.8,238.1L664.7,258.1L668.6,279.0M411.0,280.3L416.2,255.9L421.7,233.1L427.5,211.8L433.7,192.0L440.3,173.7L447.3,156.9L454.7,141.6L462.6,127.7L471.0,115.3L480.0,104.4L489.5,94.8L499.6,86.7L510.3,79.9L521.7,74.5L533.8,70.4L546.7,67.5L560.4,65.9L575.0,65.5L577.8,67.3L580.7,71.2L583.6,76.6L586.5,83.3L589.5,91.3L592.5,100.3L595.5,110.4L598.6,121.5L601.7,133.4L604.8,146.3L608.0,160.1L611.2,174.6L614.5,190.0L617.8,206.2L621.1,223.1L624.4,240.8L627.8,259.2L631.3,278.4M415.5,280.0L418.2,256.5L421.1,234.4L424.0,213.6L427.1,194.3L430.2,176.3L433.4,159.7L436.8,144.4L440.2,130.5L443.8,118.0L447.4,106.8L451.2,97.0L455.1,88.5L459.1,81.4L463.3,75.6L467.6,71.1L472.0,67.9L476.6,66.1L481.3,65.5L485.5,65.8L489.8,67.2L494.2,69.7L498.7,73.4L503.3,78.4L508.1,84.8L513.0,92.6L518.0,101.8L523.2,112.6L528.5,124.8L534.0,138.6L539.6,153.9L545.4,170.9L551.3,189.5L557.4,209.8L563.7,231.7L570.1,255.3L576.7,280.7M397.2,282.0L401.1,253.2L405.2,226.8L409.5,202.8L414.0,181.1L418.8,161.6L423.9,144.2L429.2,128.8L434.9,115.4L440.9,103.8L447.2,94.1L453.8,86.0L460.9,79.4L468.3,74.3L476.2,70.5L484.5,67.9L493.3,66.3L502.5,65.6L512.3,65.5L515.1,66.4L518.0,68.9L520.8,72.9L523.8,78.2L526.7,84.9L529.7,92.8L532.8,101.9L535.9,112.3L539.1,123.8L542.3,136.6L545.5,150.5L548.8,165.5L552.2,181.7L555.6,199.0L559.0,217.4L562.5,237.0L566.1,257.6L569.7,279.3M406.2,281.1L409.5,254.6L412.9,230.0L416.5,207.4L420.2,186.6L424.2,167.6L428.2,150.5L432.5,135.1L436.9,121.4L441.5,109.4L446.3,99.0L451.4,90.1L456.6,82.8L462.1,76.8L467.7,72.3L473.7,69.0L479.9,66.8L486.3,65.7L493.1,65.5L497.0,65.9L501.1,67.6L505.2,70.4L509.4,74.5L513.8,80.0L518.2,86.8L522.8,94.9L527.5,104.5L532.2,115.5L537.1,127.9L542.2,141.7L547.3,157.0L552.5,173.8L557.9,192.1L563.4,211.9L569.1,233.2L574.9,256.0L580.8,280.3M415.9,281.9L418.7,253.4L421.6,227.2L424.5,203.3L427.6,181.7L430.8,162.2L434.0,144.9L437.4,129.5L440.9,116.0L444.5,104.4L448.2,94.6L452.0,86.4L456.0,79.8L460.1,74.6L464.3,70.7L468.6,68.0L473.1,66.4L477.7,65.6L482.5,65.5L486.9,67.2L491.4,71.0L496.1,76.3L500.9,82.9L505.9,90.7L510.9,99.7L516.2,109.7L521.5,120.7L527.1,132.7L532.8,145.5L538.6,159.3L544.7,173.9L550.9,189.4L557.2,205.6L563.8,222.7L570.5,240.5L577.5,259.1L584.6,278.4M409.8,281.0L413.2,254.8L416.7,230.4L420.4,207.9L424.2,187.2L428.2,168.4L432.4,151.3L436.7,135.9L441.2,122.2L445.9,110.1L450.8,99.6L455.9,90.7L461.3,83.2L466.8,77.2L472.6,72.5L478.6,69.1L484.9,66.9L491.4,65.8L498.2,65.5L502.2,65.8L506.3,67.2L510.5,69.6L514.8,73.3L519.2,78.3L523.7,84.7L528.3,92.4L533.1,101.6L537.9,112.3L542.9,124.5L547.9,138.3L553.1,153.7L558.4,170.7L563.9,189.3L569.4,209.6L575.1,231.6L580.9,255.3L586.9,280.7M444.9,281.7L450.5,253.6L456.3,227.8L462.4,204.1L468.8,182.7L475.5,163.3L482.6,145.9L490.0,130.6L497.7,117.1L505.8,105.4L514.3,95.4L523.2,87.1L532.5,80.3L542.3,75.0L552.5,71.0L563.3,68.2L574.5,66.5L586.3,65.6L598.7,65.5L602.1,66.4L605.5,68.8L609.0,72.7L612.6,78.0L616.2,84.5L619.8,92.3L623.5,101.4L627.2,111.7L631.0,123.3L634.8,136.0L638.7,149.9L642.6,165.0L646.6,181.2L650.6,198.6L654.6,217.1L658.8,236.7L662.9,257.5L667.2,279.4M420.8,282.4L423.1,252.5L425.5,225.3L428.0,200.7L430.5,178.5L433.1,158.7L435.7,141.3L438.5,125.9L441.2,112.7L444.1,101.4L447.0,91.9L450.0,84.2L453.1,78.0L456.3,73.3L459.5,69.8L462.8,67.5L466.2,66.2L469.7,65.6L473.3,65.5L476.5,65.8L479.7,67.3L483.0,69.8L486.4,73.6L489.8,78.7L493.3,85.2L496.9,93.0L500.6,102.3L504.4,113.1L508.2,125.3L512.2,139.1L516.2,154.5L520.3,171.4L524.5,190.0L528.7,210.2L533.1,232.0L537.6,255.4L542.2,280.6M431.8,280.6L435.3,255.5L438.9,232.2L442.7,210.4L446.6,190.3L450.6,171.8L454.8,154.9L459.1,139.6L463.6,125.8L468.2,113.5L472.9,102.7L477.9,93.3L483.0,85.4L488.3,78.9L493.7,73.8L499.4,69.9L505.2,67.3L511.2,65.9L517.5,65.5L520.1,66.0L522.7,67.7L525.4,70.7L528.2,75.0L531.0,80.6L533.8,87.6L536.6,95.9L539.5,105.5L542.4,116.6L545.4,129.1L548.4,142.9L551.5,158.2L554.6,174.9L557.7,193.1L560.9,212.7L564.1,233.7L567.4,256.2L570.7,280.2M424.2,281.6L429.1,253.7L434.3,228.1L439.7,204.6L445.5,183.2L451.5,163.9L457.8,146.6L464.5,131.2L471.5,117.7L478.8,105.9L486.6,95.9L494.7,87.5L503.3,80.6L512.3,75.2L521.8,71.2L531.8,68.3L542.3,66.5L553.3,65.7L564.9,65.5L569.3,66.1L573.9,68.1L578.5,71.4L583.3,76.1L588.1,82.0L593.0,89.3L598.0,97.9L603.1,107.9L608.3,119.1L613.6,131.7L619.0,145.6L624.5,160.8L630.1,177.3L635.8,195.2L641.6,214.4L647.5,234.9L653.6,256.7L659.7,279.9M433.7,281.1L438.6,254.6L443.6,230.1L448.9,207.5L454.4,186.7L460.2,167.8L466.3,150.6L472.6,135.2L479.3,121.5L486.2,109.5L493.5,99.1L501.1,90.2L509.0,82.8L517.3,76.9L526.0,72.3L535.1,69.0L544.6,66.9L554.6,65.7L565.0,65.5L568.8,66.0L572.7,67.8L576.7,70.8L580.7,75.1L584.9,80.8L589.0,87.7L593.3,96.1L597.6,105.8L601.9,116.9L606.4,129.3L610.9,143.2L615.5,158.5L620.2,175.2L624.9,193.3L629.7,212.9L634.6,233.8L639.6,256.3L644.7,280.1M434.7,281.3L439.4,254.2L444.4,229.2L449.5,206.2L454.9,185.1L460.5,166.0L466.4,148.8L472.6,133.4L479.0,119.7L485.7,107.8L492.7,97.6L500.0,88.9L507.6,81.8L515.6,76.1L523.9,71.8L532.6,68.7L541.7,66.7L551.2,65.7L561.2,65.5L565.9,67.5L570.8,71.7L575.7,77.4L580.8,84.4L585.9,92.6L591.2,101.9L596.5,112.1L602.0,123.3L607.6,135.3L613.3,148.2L619.1,161.9L625.0,176.3L631.1,191.6L637.3,207.5L643.6,224.2L650.0,241.5L656.6,259.5L663.3,278.2M417.2,282.0L420.6,253.2L424.2,226.9L427.9,203.0L431.7,181.2L435.7,161.7L439.8,144.3L444.1,129.0L448.6,115.5L453.2,104.0L458.0,94.2L463.0,86.1L468.2,79.5L473.6,74.4L479.2,70.6L485.0,67.9L491.0,66.4L497.3,65.6L503.8,65.5L507.5,66.1L511.4,68.2L515.3,71.5L519.3,76.2L523.4,82.2L527.6,89.6L531.8,98.2L536.2,108.2L540.6,119.5L545.2,132.1L549.8,146.0L554.6,161.2L559.4,177.7L564.4,195.5L569.4,214.6L574.6,235.1L579.9,256.8L585.3,279.8M423.2,282.0L428.1,253.2L433.3,226.8L438.7,202.8L444.5,181.1L450.5,161.5L456.8,144.1L463.5,128.8L470.5,115.4L477.9,103.8L485.6,94.0L493.8,85.9L502.4,79.4L511.4,74.3L520.9,70.5L530.9,67.9L541.4,66.3L552.5,65.6L564.1,65.5L568.2,66.6L572.4,69.5L576.6,73.8L580.9,79.5L585.3,86.5L589.7,94.7L594.2,104.1L598.8,114.7L603.5,126.4L608.3,139.2L613.1,153.0L618.0,168.0L623.1,184.0L628.2,201.0L633.4,219.0L638.6,238.0L644.0,258.1L649.5,279.1M425.0,282.3L430.6,252.6L436.4,225.6L442.6,201.1L449.2,179.0L456.2,159.3L463.5,141.8L471.3,126.5L479.5,113.2L488.2,101.9L497.4,92.3L507.1,84.5L517.4,78.3L528.3,73.5L539.8,70.0L551.9,67.6L564.8,66.2L578.4,65.6L592.8,65.5L597.3,66.3L601.8,68.7L606.5,72.4L611.1,77.5L615.9,84.0L620.8,91.7L625.7,100.7L630.7,110.9L635.8,122.4L641.0,135.1L646.3,149.0L651.6,164.1L657.1,180.4L662.6,197.9L668.3,216.5L674.0,236.3L679.8,257.3L685.8,279.5M446.5,281.1L448.9,254.7L451.4,230.2L453.9,207.6L456.5,186.8L459.2,167.9L461.9,150.8L464.7,135.4L467.5,121.7L470.4,109.7L473.3,99.2L476.3,90.3L479.4,82.9L482.5,77.0L485.7,72.4L489.0,69.0L492.3,66.9L495.7,65.7L499.1,65.5L503.6,66.1L508.2,68.0L512.9,71.3L517.8,75.8L522.7,81.7L527.8,88.9L533.1,97.4L538.4,107.3L544.0,118.5L549.6,131.1L555.4,145.0L561.4,160.2L567.5,176.8L573.8,194.7L580.2,214.0L586.8,234.6L593.6,256.6L600.6,279.9M440.7,281.3L445.9,254.2L451.5,229.2L457.2,206.1L463.3,185.1L469.6,166.0L476.3,148.8L483.2,133.4L490.5,119.7L498.1,107.8L506.1,97.6L514.5,88.9L523.2,81.8L532.4,76.1L542.0,71.8L552.1,68.7L562.6,66.7L573.6,65.7L585.2,65.5L588.1,66.1L591.0,68.1L593.9,71.4L596.9,76.0L599.9,82.0L603.0,89.3L606.0,97.9L609.2,107.8L612.3,119.1L615.5,131.7L618.7,145.5L622.0,160.8L625.3,177.3L628.6,195.2L632.0,214.4L635.4,234.9L638.8,256.7L642.3,279.9M421.7,281.7L425.7,253.6L429.7,227.8L434.0,204.2L438.4,182.8L443.1,163.4L447.9,146.1L452.9,130.7L458.1,117.2L463.6,105.5L469.3,95.5L475.2,87.2L481.4,80.4L487.8,75.0L494.5,71.0L501.5,68.2L508.8,66.5L516.4,65.6L524.3,65.5L528.5,67.4L532.8,71.6L537.2,77.2L541.7,84.2L546.3,92.3L551.0,101.5L555.7,111.7L560.6,122.8L565.6,134.8L570.7,147.7L575.9,161.4L581.3,175.9L586.7,191.2L592.2,207.2L597.9,223.9L603.7,241.3L609.6,259.5L615.7,278.2M443.0,281.6L444.5,253.8L446.1,228.2L447.7,204.7L449.3,183.4L450.9,164.1L452.6,146.8L454.3,131.4L456.0,117.8L457.7,106.1L459.5,96.0L461.2,87.6L463.0,80.7L464.9,75.3L466.7,71.2L468.6,68.3L470.5,66.5L472.4,65.7L474.3,65.5L477.8,66.2L481.2,68.2L484.8,71.6L488.5,76.4L492.2,82.4L496.0,89.8L499.9,98.5L503.9,108.5L508.0,119.8L512.2,132.4L516.5,146.3L520.9,161.5L525.4,178.0L530.0,195.8L534.7,214.9L539.6,235.2L544.5,256.9L549.5,279.8M421.6,280.2L424.0,256.1L426.4,233.5L428.9,212.4L431.5,192.8L434.1,174.6L436.8,157.8L439.6,142.5L442.4,128.7L445.4,116.2L448.4,105.2L451.4,95.6L454.6,87.3L457.8,80.4L461.1,74.9L464.5,70.6L468.0,67.7L471.5,66.0L475.2,65.5L478.0,66.7L480.9,69.6L483.9,74.1L486.9,79.9L489.9,87.0L493.0,95.3L496.2,104.8L499.4,115.4L502.7,127.2L506.1,140.0L509.5,153.9L513.0,168.8L516.6,184.7L520.2,201.6L523.9,219.5L527.7,238.4L531.6,258.2L535.5,279.0M437.2,280.8L438.7,255.1L440.2,231.1L441.8,208.9L443.3,188.5L444.9,169.8L446.5,152.7L448.1,137.3L449.7,123.6L451.4,111.4L453.1,100.8L454.8,91.7L456.5,84.1L458.3,77.9L460.1,73.0L461.9,69.4L463.7,67.1L465.5,65.8L467.4,65.5L470.8,66.2L474.4,68.3L478.0,71.8L481.7,76.6L485.5,82.7L489.3,90.1L493.3,98.9L497.4,108.9L501.6,120.3L505.9,132.9L510.2,146.8L514.7,162.0L519.3,178.4L524.1,196.1L528.9,215.1L533.9,235.4L539.0,256.9L544.2,279.7M420.9,280.9L424.2,255.0L427.7,230.9L431.2,208.6L434.9,188.1L438.7,169.3L442.7,152.2L446.8,136.8L451.1,123.1L455.5,111.0L460.1,100.4L464.8,91.3L469.7,83.8L474.8,77.6L480.0,72.8L485.5,69.3L491.2,67.0L497.0,65.8L503.1,65.5L507.0,66.7L511.0,69.8L515.2,74.4L519.4,80.4L523.7,87.6L528.1,96.1L532.6,105.7L537.2,116.4L541.9,128.2L546.7,141.0L551.6,154.8L556.7,169.7L561.8,185.5L567.1,202.3L572.4,220.1L577.9,238.8L583.6,258.4L589.3,278.9M416.9,280.0L420.1,256.5L423.5,234.5L426.9,213.8L430.5,194.5L434.2,176.6L438.0,160.0L441.9,144.7L446.1,130.8L450.3,118.3L454.7,107.1L459.3,97.2L464.0,88.7L469.0,81.5L474.0,75.7L479.3,71.2L484.8,68.0L490.5,66.1L496.3,65.5L500.4,66.2L504.5,68.3L508.7,71.8L513.0,76.6L517.5,82.7L522.0,90.1L526.7,98.8L531.4,108.9L536.3,120.2L541.3,132.8L546.4,146.7L551.7,161.9L557.0,178.4L562.5,196.1L568.1,215.1L573.9,235.4L579.8,256.9L585.8,279.7M445.3,282.3L446.9,252.6L448.5,225.6L450.1,201.1L451.8,179.0L453.4,159.3L455.1,141.8L456.8,126.5L458.6,113.2L460.3,101.8L462.1,92.3L463.9,84.5L465.8,78.3L467.6,73.5L469.5,70.0L471.4,67.6L473.3,66.2L475.3,65.6L477.3,65.5L480.4,66.0L483.7,67.6L487.0,70.5L490.4,74.7L493.9,80.2L497.4,87.0L501.0,95.3L504.7,104.9L508.5,115.9L512.3,128.3L516.3,142.1L520.3,157.5L524.4,174.2L528.6,192.4L532.8,212.2L537.2,233.4L541.7,256.1L546.2,280.3M423.2,280.2L427.4,256.1L431.8,233.5L436.3,212.3L441.1,192.6L446.1,174.4L451.3,157.7L456.7,142.4L462.3,128.5L468.2,116.1L474.4,105.0L480.9,95.4L487.6,87.2L494.6,80.3L502.0,74.8L509.6,70.6L517.6,67.6L526.0,66.0L534.7,65.5L538.4,66.2L542.2,68.4L546.0,71.9L549.9,76.7L553.9,82.9L557.9,90.4L562.0,99.2L566.2,109.2L570.5,120.6L574.8,133.2L579.2,147.1L583.7,162.3L588.3,178.7L592.9,196.4L597.7,215.4L602.5,235.6L607.4,257.0L612.4,279.7M423.4,280.8L427.8,255.2L432.3,231.4L437.1,209.3L442.2,189.0L447.4,170.3L452.9,153.3L458.7,137.9L464.7,124.2L471.0,112.0L477.6,101.3L484.5,92.1L491.7,84.4L499.3,78.1L507.2,73.2L515.5,69.6L524.1,67.1L533.2,65.8L542.6,65.5L547.4,65.9L552.2,67.4L557.1,70.1L562.1,74.1L567.3,79.4L572.5,86.0L577.9,94.0L583.4,103.5L589.0,114.4L594.7,126.7L600.6,140.5L606.5,155.9L612.7,172.7L618.9,191.1L625.3,211.1L631.8,232.6L638.5,255.7L645.3,280.4M449.1,280.2L450.0,256.1L450.8,233.5L451.7,212.3L452.5,192.6L453.4,174.4L454.2,157.7L455.1,142.4L456.0,128.5L456.8,116.1L457.7,105.1L458.6,95.4L459.5,87.2L460.4,80.3L461.3,74.8L462.2,70.6L463.2,67.7L464.1,66.0L465.0,65.5L468.6,66.2L472.4,68.2L476.2,71.6L480.1,76.4L484.1,82.5L488.3,89.9L492.5,98.6L496.9,108.6L501.3,119.9L505.9,132.5L510.6,146.4L515.5,161.6L520.4,178.1L525.5,195.8L530.8,214.9L536.1,235.2L541.7,256.9L547.3,279.8M444.3,280.6L449.0,255.5L453.9,232.0L459.0,210.2L464.3,190.0L469.8,171.5L475.5,154.5L481.5,139.2L487.7,125.4L494.2,113.1L500.9,102.3L507.9,93.0L515.2,85.2L522.8,78.7L530.7,73.6L538.9,69.8L547.5,67.3L556.4,65.9L565.7,65.5L568.7,65.8L571.9,67.2L575.0,69.8L578.2,73.5L581.4,78.6L584.7,85.0L588.0,92.8L591.4,102.1L594.8,112.8L598.2,125.1L601.7,138.9L605.2,154.2L608.8,171.2L612.5,189.8L616.1,210.0L619.9,231.8L623.6,255.4L627.5,280.6M425.7,280.5L430.1,255.6L434.7,232.3L439.4,210.6L444.4,190.6L449.6,172.1L455.0,155.2L460.7,139.8L466.6,126.0L472.8,113.7L479.3,102.9L486.1,93.5L493.2,85.6L500.6,79.0L508.3,73.9L516.4,70.0L524.8,67.3L533.6,65.9L542.9,65.5L547.4,65.8L552.1,67.2L556.9,69.7L561.7,73.5L566.7,78.5L571.8,84.9L577.0,92.7L582.3,101.9L587.7,112.7L593.2,124.9L598.9,138.7L604.6,154.1L610.5,171.0L616.6,189.6L622.7,209.9L629.0,231.8L635.4,255.4L641.9,280.7M447.7,281.1L450.7,254.6L453.7,230.0L456.7,207.4L459.9,186.6L463.1,167.6L466.4,150.5L469.8,135.1L473.2,121.4L476.8,109.4L480.4,99.0L484.1,90.1L487.9,82.8L491.8,76.9L495.8,72.3L499.9,69.0L504.1,66.8L508.4,65.7L512.9,65.5L516.2,66.7L519.6,69.8L523.1,74.4L526.6,80.3L530.2,87.5L533.8,95.9L537.6,105.5L541.4,116.2L545.2,128.0L549.2,140.8L553.2,154.6L557.2,169.5L561.4,185.4L565.6,202.2L569.9,220.0L574.3,238.7L578.8,258.3L583.3,278.9M434.3,280.6L437.0,255.4L439.9,232.0L442.8,210.2L445.8,190.0L448.8,171.4L452.0,154.5L455.2,139.1L458.5,125.3L461.9,113.1L465.4,102.3L468.9,93.0L472.6,85.2L476.4,78.7L480.2,73.6L484.2,69.8L488.3,67.3L492.4,65.8L496.7,65.5L500.3,66.0L504.0,67.7L507.7,70.7L511.6,75.0L515.5,80.6L519.5,87.6L523.6,95.9L527.7,105.6L532.0,116.6L536.3,129.1L540.8,143.0L545.3,158.2L550.0,175.0L554.7,193.1L559.6,212.7L564.5,233.7L569.5,256.2L574.7,280.2M438.2,282.3L442.5,252.7L446.9,225.8L451.4,201.4L456.2,179.4L461.1,159.7L466.2,142.2L471.6,126.9L477.1,113.6L482.9,102.2L488.8,92.6L495.0,84.8L501.5,78.5L508.2,73.6L515.1,70.1L522.3,67.7L529.8,66.2L537.6,65.6L545.7,65.5L549.1,66.0L552.5,67.7L555.9,70.7L559.5,75.0L563.0,80.6L566.6,87.6L570.3,95.9L574.0,105.5L577.8,116.6L581.7,129.1L585.6,142.9L589.6,158.2L593.6,175.0L597.7,193.1L601.8,212.7L606.1,233.7L610.3,256.2L614.7,280.2M423.8,280.6L425.9,255.4L428.1,232.0L430.2,210.2L432.5,190.0L434.8,171.4L437.1,154.5L439.5,139.1L441.9,125.3L444.4,113.1L447.0,102.3L449.6,93.0L452.2,85.2L455.0,78.7L457.7,73.6L460.6,69.8L463.5,67.3L466.5,65.8L469.5,65.5L473.3,66.2L477.1,68.3L481.1,71.8L485.1,76.6L489.3,82.7L493.6,90.2L498.0,98.9L502.5,109.0L507.1,120.3L511.9,133.0L516.8,146.9L521.8,162.0L527.0,178.5L532.3,196.2L537.7,215.2L543.3,235.4L549.0,257.0L554.9,279.7M446.9,280.2L450.3,256.2L453.8,233.7L457.4,212.6L461.1,193.0L464.9,174.9L468.8,158.2L472.8,142.9L477.0,129.0L481.2,116.6L485.6,105.5L490.1,95.8L494.7,87.5L499.5,80.6L504.4,75.0L509.4,70.7L514.6,67.7L520.0,66.0L525.5,65.5L529.4,66.0L533.3,67.8L537.4,70.8L541.5,75.2L545.7,80.9L550.0,87.9L554.3,96.2L558.8,106.0L563.3,117.1L568.0,129.5L572.7,143.4L577.5,158.7L582.4,175.4L587.4,193.5L592.5,213.0L597.8,233.9L603.1,256.3L608.5,280.1M438.9,281.2L442.3,254.4L445.8,229.7L449.4,206.8L453.2,186.0L457.0,166.9L461.0,149.7L465.1,134.4L469.3,120.7L473.6,108.7L478.1,98.4L482.7,89.6L487.5,82.4L492.4,76.5L497.5,72.1L502.7,68.8L508.1,66.8L513.6,65.7L519.3,65.5L522.1,66.4L525.0,68.9L527.9,72.8L530.8,78.1L533.8,84.7L536.8,92.6L539.9,101.7L543.0,112.1L546.1,123.6L549.3,136.4L552.6,150.3L555.9,165.3L559.2,181.5L562.6,198.9L566.1,217.3L569.6,236.9L573.1,257.6L576.7,279.3M447.7,280.5L451.2,255.6L454.9,232.4L458.7,210.7L462.6,190.7L466.6,172.2L470.7,155.3L474.9,140.0L479.3,126.2L483.8,113.9L488.5,103.0L493.3,93.6L498.2,85.7L503.2,79.1L508.5,73.9L513.9,70.0L519.4,67.4L525.1,65.9L531.0,65.5L534.2,66.4L537.6,68.9L540.9,72.9L544.4,78.2L547.9,84.9L551.4,92.8L555.0,101.9L558.7,112.3L562.4,123.8L566.2,136.6L570.0,150.5L573.9,165.5L577.9,181.7L581.9,199.0L586.0,217.4L590.2,237.0L594.4,257.6L598.7,279.3M444.7,281.9L450.2,253.4L455.9,227.3L461.8,203.5L468.1,181.9L474.6,162.4L481.5,145.0L488.7,129.7L496.2,116.2L504.1,104.6L512.3,94.7L520.9,86.5L530.0,79.8L539.4,74.6L549.3,70.7L559.7,68.1L570.6,66.4L581.9,65.6L593.8,65.5L597.1,66.4L600.3,69.1L603.6,73.1L607.0,78.5L610.4,85.3L613.8,93.3L617.2,102.5L620.7,112.9L624.3,124.5L627.9,137.2L631.5,151.1L635.2,166.2L638.9,182.3L642.7,199.5L646.5,217.9L650.4,237.3L654.3,257.7L658.3,279.3M426.2,282.2L430.2,252.8L434.3,226.0L438.6,201.7L443.1,179.7L447.7,160.1L452.6,142.6L457.7,127.3L462.9,114.0L468.4,102.5L474.1,92.9L480.0,85.0L486.2,78.7L492.6,73.7L499.3,70.2L506.3,67.7L513.5,66.3L521.1,65.6L528.9,65.5L532.7,66.5L536.5,69.3L540.4,73.5L544.4,79.1L548.4,85.9L552.5,94.0L556.7,103.4L561.0,113.9L565.3,125.5L569.8,138.3L574.3,152.2L578.9,167.2L583.6,183.2L588.3,200.3L593.2,218.5L598.2,237.7L603.2,257.9L608.3,279.1M428.1,282.0L432.3,253.2L436.6,226.8L441.1,202.8L445.8,181.0L450.8,161.5L455.9,144.1L461.2,128.7L466.7,115.3L472.5,103.8L478.6,94.0L484.8,85.9L491.4,79.4L498.2,74.3L505.3,70.5L512.7,67.9L520.4,66.3L528.5,65.6L536.9,65.5L539.3,67.3L541.8,71.3L544.3,76.7L546.8,83.5L549.4,91.5L552.0,100.6L554.6,110.7L557.3,121.8L560.0,133.8L562.7,146.7L565.4,160.4L568.2,175.0L571.0,190.3L573.9,206.4L576.8,223.3L579.7,241.0L582.6,259.3L585.6,278.3M421.5,281.9L426.8,253.4L432.5,227.3L438.4,203.4L444.8,181.8L451.5,162.4L458.5,145.0L466.0,129.6L473.9,116.2L482.3,104.6L491.2,94.7L500.6,86.5L510.5,79.8L521.0,74.6L532.0,70.7L543.8,68.0L556.2,66.4L569.3,65.6L583.2,65.5L586.4,65.9L589.5,67.4L592.8,70.0L596.0,74.0L599.3,79.2L602.7,85.8L606.1,93.8L609.5,103.2L613.0,114.0L616.5,126.3L620.1,140.2L623.7,155.5L627.3,172.4L631.0,190.8L634.8,210.8L638.6,232.4L642.4,255.7L646.3,280.5M451.9,280.7L453.1,255.3L454.3,231.6L455.5,209.6L456.8,189.3L458.0,170.7L459.3,153.7L460.6,138.4L461.8,124.6L463.1,112.3L464.4,101.6L465.8,92.4L467.1,84.7L468.5,78.3L469.8,73.3L471.2,69.6L472.6,67.2L474.0,65.8L475.4,65.5L478.8,67.1L482.3,70.6L485.8,75.7L489.4,82.2L493.2,89.8L497.0,98.7L500.8,108.6L504.8,119.5L508.9,131.4L513.1,144.3L517.3,158.1L521.7,172.8L526.2,188.3L530.7,204.7L535.4,222.0L540.2,240.1L545.1,258.9L550.1,278.6M449.8,282.0L453.4,253.2L457.1,226.9L461.0,202.9L464.9,181.2L469.0,161.7L473.2,144.3L477.6,128.9L482.0,115.5L486.6,103.9L491.3,94.2L496.2,86.0L501.2,79.5L506.4,74.3L511.7,70.6L517.2,67.9L522.8,66.4L528.7,65.6L534.7,65.5L536.7,66.0L538.7,67.7L540.8,70.7L542.8,74.9L544.9,80.5L547.1,87.4L549.2,95.7L551.4,105.4L553.6,116.4L555.8,128.9L558.0,142.7L560.2,158.0L562.5,174.8L564.8,192.9L567.1,212.5L569.5,233.6L571.8,256.2L574.2,280.2M454.2,282.4L456.0,252.5L457.9,225.2L459.7,200.5L461.6,178.4L463.6,158.6L465.5,141.1L467.5,125.8L469.5,112.5L471.6,101.3L473.7,91.8L475.8,84.1L477.9,77.9L480.1,73.2L482.3,69.8L484.5,67.5L486.8,66.2L489.1,65.6L491.4,65.5L495.6,66.1L500.0,68.0L504.4,71.2L508.9,75.7L513.6,81.6L518.4,88.7L523.3,97.3L528.4,107.1L533.6,118.3L538.9,130.9L544.3,144.7L549.9,160.0L555.7,176.6L561.5,194.5L567.6,213.8L573.8,234.5L580.1,256.6L586.7,280.0M459.2,282.3L460.5,252.7L461.9,225.6L463.2,201.1L464.6,179.1L466.0,159.4L467.4,141.9L468.9,126.6L470.3,113.3L471.8,101.9L473.2,92.4L474.7,84.6L476.2,78.3L477.7,73.5L479.3,70.0L480.8,67.6L482.4,66.2L484.0,65.6L485.6,65.5L488.5,66.1L491.5,67.9L494.5,71.1L497.6,75.6L500.7,81.4L503.9,88.6L507.2,97.1L510.5,106.9L513.9,118.1L517.3,130.6L520.9,144.5L524.4,159.7L528.1,176.4L531.8,194.3L535.6,213.7L539.4,234.4L543.3,256.5L547.3,280.0M449.7,281.4L450.7,254.1L451.8,228.9L452.9,205.7L454.0,184.6L455.1,165.4L456.2,148.2L457.3,132.8L458.4,119.2L459.5,107.3L460.7,97.1L461.8,88.6L463.0,81.5L464.2,75.9L465.4,71.6L466.5,68.6L467.7,66.6L469.0,65.7L470.2,65.5L474.1,66.5L478.2,69.1L482.3,73.2L486.6,78.7L491.0,85.5L495.5,93.5L500.1,102.8L504.9,113.2L509.8,124.8L514.8,137.6L520.0,151.5L525.3,166.5L530.8,182.6L536.4,199.8L542.2,218.1L548.1,237.4L554.2,257.8L560.5,279.2M460.5,280.8L461.5,255.1L462.5,231.1L463.5,208.9L464.5,188.5L465.5,169.8L466.5,152.7L467.6,137.4L468.6,123.6L469.6,111.4L470.7,100.8L471.8,91.7L472.8,84.1L473.9,77.9L475.0,73.0L476.1,69.4L477.2,67.1L478.3,65.8L479.4,65.5L482.1,67.3L484.9,71.2L487.7,76.7L490.6,83.4L493.5,91.4L496.4,100.5L499.5,110.6L502.5,121.6L505.7,133.6L508.8,146.5L512.1,160.2L515.4,174.8L518.7,190.2L522.2,206.3L525.6,223.2L529.2,240.9L532.8,259.3L536.5,278.4M455.0,280.2L456.2,256.1L457.4,233.5L458.6,212.4L459.8,192.8L461.0,174.6L462.3,157.8L463.5,142.5L464.8,128.7L466.1,116.2L467.4,105.2L468.7,95.5L470.0,87.3L471.3,80.4L472.6,74.8L474.0,70.6L475.3,67.7L476.7,66.0L478.1,65.5L482.2,66.4L486.5,69.0L490.8,73.1L495.3,78.5L499.9,85.2L504.6,93.2L509.5,102.4L514.4,112.8L519.6,124.4L524.8,137.1L530.2,151.0L535.8,166.1L541.5,182.2L547.4,199.5L553.4,217.8L559.6,237.2L566.0,257.7L572.5,279.3M453.9,280.8L457.0,255.1L460.1,231.2L463.4,209.0L466.7,188.6L470.1,169.9L473.6,152.8L477.2,137.5L480.9,123.7L484.7,111.5L488.5,100.9L492.5,91.8L496.5,84.1L500.7,77.9L504.9,73.0L509.3,69.5L513.7,67.1L518.3,65.8L523.0,65.5L526.8,67.3L530.6,71.3L534.5,76.9L538.5,83.7L542.5,91.7L546.7,100.8L550.9,111.0L555.2,122.1L559.6,134.1L564.0,146.9L568.6,160.7L573.2,175.2L578.0,190.5L582.8,206.6L587.7,223.5L592.7,241.1L597.8,259.3L603.0,278.3M461.7,282.2L465.7,252.8L469.7,226.0L473.9,201.7L478.1,179.7L482.6,160.1L487.1,142.6L491.8,127.3L496.6,114.0L501.5,102.6L506.7,92.9L511.9,85.0L517.3,78.7L522.9,73.8L528.6,70.2L534.5,67.7L540.6,66.3L546.9,65.6L553.3,65.5L557.1,66.3L561.0,68.5L565.0,72.2L569.0,77.1L573.1,83.5L577.3,91.1L581.5,100.0L585.8,110.1L590.2,121.5L594.6,134.2L599.2,148.1L603.8,163.2L608.5,179.6L613.2,197.2L618.1,216.0L623.0,236.0L628.0,257.2L633.1,279.6M522.0,65.6L532.0,66.4L540.0,68.5L545.0,73.0L550.0,79.0L557.9,86.9L564.9,92.8L572.8,96.8L581.8,92.8L589.8,86.9L598.0,80.9L605.0,76.0M412.7,279.0L422.8,264.8L433.0,250.8L443.2,237.0L453.4,223.4L463.6,209.9L473.8,196.7L484.0,183.7L494.1,170.9L504.3,158.4L514.5,146.1L524.7,134.2L534.9,122.6L545.1,111.4L555.3,100.6L565.4,90.3L575.6,80.7L585.8,72.1L596.0,65.5L600.6,66.1L605.2,68.1L609.7,71.5L614.3,76.2L618.9,82.3L623.5,89.7L628.0,98.5L632.6,108.6L637.2,120.1L641.8,132.9L646.4,147.1L650.9,162.6L655.5,179.5L660.1,197.7L664.7,217.3L669.2,238.2L673.8,260.5L678.4,284.1M442.0,278.4L448.4,265.4L454.9,252.4L461.4,239.6L467.9,226.9L474.3,214.2L480.8,201.7L487.3,189.2L493.7,176.9L500.2,164.7L506.7,152.6L513.2,140.7L519.6,128.9L526.1,117.4L532.6,106.1L539.0,95.0L545.5,84.4L552.0,74.3L558.5,65.5L562.6,66.0L566.8,67.9L570.9,71.0L575.1,75.5L579.2,81.3L583.4,88.5L587.5,97.0L591.7,107.0L595.8,118.3L600.0,131.1L604.1,145.2L608.3,160.8L612.5,177.8L616.6,196.2L620.8,216.1L624.9,237.4L629.1,260.2L633.2,284.4M438.5,278.7L444.7,265.1L451.0,251.7L457.3,238.4L463.5,225.2L469.8,212.2L476.0,199.3L482.3,186.6L488.6,174.0L494.8,161.6L501.1,149.5L507.4,137.5L513.6,125.8L519.9,114.4L526.1,103.3L532.4,92.7L538.7,82.5L544.9,73.2L551.2,65.5L554.4,66.0L557.7,67.9L560.9,71.1L564.2,75.6L567.4,81.5L570.7,88.7L573.9,97.3L577.2,107.2L580.4,118.6L583.6,131.4L586.9,145.5L590.1,161.1L593.4,178.1L596.6,196.5L599.9,216.3L603.1,237.6L606.4,260.2L609.6,284.4M455.9,277.9L459.9,265.7L463.8,253.6L467.8,241.4L471.8,229.3L475.8,217.2L479.8,205.2L483.8,193.1L487.7,181.2L491.7,169.2L495.7,157.3L499.7,145.5L503.7,133.7L507.6,122.0L511.6,110.3L515.6,98.8L519.6,87.4L523.6,76.1L527.6,65.5L532.0,66.1L536.5,68.1L540.9,71.5L545.3,76.2L549.8,82.3L554.2,89.7L558.7,98.5L563.1,108.6L567.6,120.1L572.0,132.9L576.5,147.1L580.9,162.6L585.4,179.5L589.8,197.7L594.3,217.3L598.7,238.2L603.2,260.5L607.6,284.1M439.1,278.3L443.7,265.4L448.2,252.6L452.8,239.8L457.4,227.1L462.0,214.5L466.5,202.0L471.1,189.6L475.7,177.3L480.2,165.1L484.8,153.0L489.4,141.1L494.0,129.3L498.5,117.8L503.1,106.4L507.7,95.4L512.2,84.6L516.8,74.4L521.4,65.5L525.7,65.9L529.9,67.5L534.2,70.3L538.5,74.4L542.8,79.9L547.0,86.7L551.3,94.9L555.6,104.6L559.9,115.7L564.1,128.3L568.4,142.5L572.7,158.1L577.0,175.3L581.2,194.1L585.5,214.4L589.8,236.3L594.0,259.8L598.3,284.9M444.0,277.8L449.8,265.9L455.6,253.9L461.4,242.0L467.3,230.1L473.1,218.2L478.9,206.3L484.7,194.5L490.5,182.6L496.3,170.8L502.1,158.9L507.9,147.1L513.8,135.3L519.6,123.6L525.4,111.8L531.2,100.1L537.0,88.4L542.8,76.9L548.6,65.5L553.5,66.1L558.3,68.0L563.2,71.2L568.0,75.7L572.9,81.6L577.8,88.9L582.6,97.5L587.5,107.5L592.3,118.9L597.2,131.6L602.0,145.8L606.9,161.4L611.7,178.3L616.6,196.7L621.4,216.5L626.3,237.7L631.1,260.3L636.0,284.3M439.9,279.4L444.3,264.4L448.7,249.7L453.1,235.1L457.4,220.9L461.8,206.9L466.2,193.2L470.6,179.8L475.0,166.7L479.3,154.0L483.7,141.7L488.1,129.8L492.5,118.3L496.9,107.4L501.2,97.0L505.6,87.3L510.0,78.5L514.4,70.9L518.8,65.5L524.1,66.9L529.4,70.3L534.7,75.2L540.0,81.4L545.3,89.0L550.5,97.7L555.8,107.6L561.1,118.6L566.4,130.7L571.7,143.7L577.0,157.8L582.3,172.8L587.6,188.8L592.9,205.8L598.2,223.6L603.5,242.3L608.8,261.9L614.1,282.4M463.5,279.8L466.8,264.1L470.1,248.7L473.4,233.7L476.7,219.0L480.1,204.6L483.4,190.5L486.7,176.9L490.0,163.6L493.3,150.8L496.6,138.4L499.9,126.6L503.2,115.3L506.6,104.6L509.9,94.5L513.2,85.3L516.5,77.0L519.8,70.1L523.1,65.5L527.6,67.1L532.1,70.8L536.6,76.1L541.0,82.7L545.5,90.5L550.0,99.5L554.5,109.6L558.9,120.7L563.4,132.9L567.9,146.0L572.4,160.0L576.9,174.9L581.3,190.7L585.8,207.3L590.3,224.8L594.8,243.1L599.2,262.2L603.7,282.1" stroke="#808080" stroke-width="1.25" fill="none" stroke-linejoin="round" clip-path="url(#cb)"/>
<line x1="195.20" y1="271.2" x2="195.20" y2="2.7" stroke="#000" stroke-width="1.25" stroke-dasharray="6.35 6.35"/>
<line x1="195.20" y1="539.8" x2="195.20" y2="271.2" stroke="#000" stroke-width="1.25" stroke-dasharray="6.35 6.35"/>
<line x1="463.80" y1="271.2" x2="463.80" y2="2.7" stroke="#000" stroke-width="1.25" stroke-dasharray="6.35 6.35"/>
<line x1="463.80" y1="539.8" x2="463.80" y2="271.2" stroke="#000" stroke-width="1.25" stroke-dasharray="6.35 6.35"/>
<path d="M60.1,239.80h4.2M328.9,239.80h-4.2M60.1,204.87h4.2M328.9,204.87h-4.2M60.1,169.94h4.2M328.9,169.94h-4.2M60.1,135.01h4.2M328.9,135.01h-4.2M60.1,100.08h4.2M328.9,100.08h-4.2M60.1,65.15h4.2M328.9,65.15h-4.2M60.1,30.22h4.2M328.9,30.22h-4.2M60.1,508.30h4.2M328.9,508.30h-4.2M60.1,473.37h4.2M328.9,473.37h-4.2M60.1,438.44h4.2M328.9,438.44h-4.2M60.1,403.51h4.2M328.9,403.51h-4.2M60.1,368.58h4.2M328.9,368.58h-4.2M60.1,333.65h4.2M328.9,333.65h-4.2M60.1,298.72h4.2M328.9,298.72h-4.2M127.65,271.2v4.2M127.65,539.8v-4.2M396.35,271.2v4.2M396.35,539.8v-4.2M195.20,271.2v4.2M195.20,539.8v-4.2M463.80,271.2v4.2M463.80,539.8v-4.2M262.75,271.2v4.2M262.75,539.8v-4.2M531.25,271.2v4.2M531.25,539.8v-4.2" stroke="#333" stroke-width="1" fill="none"/>
<path d="M60.1,2.7H597.3V539.8H60.1ZM328.9,2.7V539.8M60.1,271.2H597.3" stroke="#111" stroke-width="1.35" fill="none"/>
<text x="28.06" y="246.65" font-family="'Liberation Sans', sans-serif" font-size="18.8" textLength="26.06" lengthAdjust="spacingAndGlyphs">−5</text>
<text x="28.05" y="211.72" font-family="'Liberation Sans', sans-serif" font-size="18.8" textLength="26.14" lengthAdjust="spacingAndGlyphs">−4</text>
<text x="28.05" y="176.79" font-family="'Liberation Sans', sans-serif" font-size="18.8" textLength="26.18" lengthAdjust="spacingAndGlyphs">−3</text>
<text x="28.03" y="141.86" font-family="'Liberation Sans', sans-serif" font-size="18.8" textLength="26.64" lengthAdjust="spacingAndGlyphs">−2</text>
<text x="28.03" y="106.93" font-family="'Liberation Sans', sans-serif" font-size="18.8" textLength="26.64" lengthAdjust="spacingAndGlyphs">−1</text>
<text x="42.48" y="72.00" font-family="'Liberation Sans', sans-serif" font-size="18.8" textLength="11.35" lengthAdjust="spacingAndGlyphs">0</text>
<text x="43.63" y="37.07" font-family="'Liberation Sans', sans-serif" font-size="18.8" textLength="10.87" lengthAdjust="spacingAndGlyphs">1</text>
<text x="28.06" y="515.15" font-family="'Liberation Sans', sans-serif" font-size="18.8" textLength="26.06" lengthAdjust="spacingAndGlyphs">−5</text>
<text x="28.05" y="480.22" font-family="'Liberation Sans', sans-serif" font-size="18.8" textLength="26.14" lengthAdjust="spacingAndGlyphs">−4</text>
<text x="28.05" y="445.29" font-family="'Liberation Sans', sans-serif" font-size="18.8" textLength="26.18" lengthAdjust="spacingAndGlyphs">−3</text>
<text x="28.03" y="410.36" font-family="'Liberation Sans', sans-serif" font-size="18.8" textLength="26.64" lengthAdjust="spacingAndGlyphs">−2</text>
<text x="28.03" y="375.43" font-family="'Liberation Sans', sans-serif" font-size="18.8" textLength="26.64" lengthAdjust="spacingAndGlyphs">−1</text>
<text x="42.48" y="340.50" font-family="'Liberation Sans', sans-serif" font-size="18.8" textLength="11.35" lengthAdjust="spacingAndGlyphs">0</text>
<text x="43.63" y="305.57" font-family="'Liberation Sans', sans-serif" font-size="18.8" textLength="10.87" lengthAdjust="spacingAndGlyphs">1</text>
<text x="46.25" y="558.40" font-family="'Liberation Sans', sans-serif" font-size="18.8" textLength="29.50" lengthAdjust="spacingAndGlyphs">0.0</text>
<text x="114.29" y="558.40" font-family="'Liberation Sans', sans-serif" font-size="18.8" textLength="28.01" lengthAdjust="spacingAndGlyphs">0.5</text>
<text x="182.44" y="558.40" font-family="'Liberation Sans', sans-serif" font-size="18.8" textLength="28.89" lengthAdjust="spacingAndGlyphs">1.0</text>
<text x="250.14" y="558.40" font-family="'Liberation Sans', sans-serif" font-size="18.8" textLength="27.04" lengthAdjust="spacingAndGlyphs">1.5</text>
<text x="314.95" y="558.40" font-family="'Liberation Sans', sans-serif" font-size="18.8" textLength="29.50" lengthAdjust="spacingAndGlyphs">0.0</text>
<text x="382.99" y="558.40" font-family="'Liberation Sans', sans-serif" font-size="18.8" textLength="28.01" lengthAdjust="spacingAndGlyphs">0.5</text>
<text x="451.14" y="558.40" font-family="'Liberation Sans', sans-serif" font-size="18.8" textLength="28.89" lengthAdjust="spacingAndGlyphs">1.0</text>
<text x="518.84" y="558.40" font-family="'Liberation Sans', sans-serif" font-size="18.8" textLength="27.04" lengthAdjust="spacingAndGlyphs">1.5</text>
<text x="190.30" y="23.90" font-family="'Liberation Serif', serif" font-size="19.0" textLength="78.87" lengthAdjust="spacingAndGlyphs">combined</text>
<text x="276.61" y="23.90" font-family="'Liberation Serif', serif" font-size="19.0" textLength="43.22" lengthAdjust="spacingAndGlyphs">mock</text>
<text x="226.29" y="46.80" font-family="'Liberation Serif', serif" font-size="19.0" font-style="italic" textLength="9.96" lengthAdjust="spacingAndGlyphs">σ</text>
<text x="237.64" y="51.40" font-family="'Liberation Serif', serif" font-size="13.3" textLength="10.23" lengthAdjust="spacingAndGlyphs">m</text>
<text x="285.26" y="47.00" font-family="'Liberation Serif', serif" font-size="19.0" textLength="34.36" lengthAdjust="spacingAndGlyphs">20%</text>
<text x="454.79" y="23.90" font-family="'Liberation Serif', serif" font-size="19.0" textLength="82.82" lengthAdjust="spacingAndGlyphs">individual</text>
<text x="545.11" y="23.90" font-family="'Liberation Serif', serif" font-size="19.0" textLength="43.22" lengthAdjust="spacingAndGlyphs">mock</text>
<text x="494.79" y="46.80" font-family="'Liberation Serif', serif" font-size="19.0" font-style="italic" textLength="9.96" lengthAdjust="spacingAndGlyphs">σ</text>
<text x="506.14" y="51.40" font-family="'Liberation Serif', serif" font-size="13.3" textLength="10.23" lengthAdjust="spacingAndGlyphs">m</text>
<text x="553.76" y="47.00" font-family="'Liberation Serif', serif" font-size="19.0" textLength="34.36" lengthAdjust="spacingAndGlyphs">20%</text>
<text x="190.30" y="292.40" font-family="'Liberation Serif', serif" font-size="19.0" textLength="78.87" lengthAdjust="spacingAndGlyphs">combined</text>
<text x="276.61" y="292.40" font-family="'Liberation Serif', serif" font-size="19.0" textLength="43.22" lengthAdjust="spacingAndGlyphs">mock</text>
<text x="230.67" y="315.30" font-family="'Liberation Serif', serif" font-size="19.0" font-style="italic" textLength="10.36" lengthAdjust="spacingAndGlyphs">σ</text>
<text x="242.04" y="319.90" font-family="'Liberation Serif', serif" font-size="13.3" textLength="10.13" lengthAdjust="spacingAndGlyphs">m</text>
<text x="285.26" y="315.50" font-family="'Liberation Serif', serif" font-size="19.0" textLength="34.36" lengthAdjust="spacingAndGlyphs">20%</text>
<text x="454.79" y="292.40" font-family="'Liberation Serif', serif" font-size="19.0" textLength="82.82" lengthAdjust="spacingAndGlyphs">individual</text>
<text x="545.11" y="292.40" font-family="'Liberation Serif', serif" font-size="19.0" textLength="43.22" lengthAdjust="spacingAndGlyphs">mock</text>
<text x="499.17" y="315.30" font-family="'Liberation Serif', serif" font-size="19.0" font-style="italic" textLength="10.36" lengthAdjust="spacingAndGlyphs">σ</text>
<text x="510.54" y="319.90" font-family="'Liberation Serif', serif" font-size="13.3" textLength="10.13" lengthAdjust="spacingAndGlyphs">m</text>
<text x="553.76" y="315.50" font-family="'Liberation Serif', serif" font-size="19.0" textLength="34.36" lengthAdjust="spacingAndGlyphs">20%</text>
<text x="71.27" y="253.10" font-family="'Liberation Serif', serif" font-size="22.2" textLength="5.75" lengthAdjust="spacingAndGlyphs">(</text>
<text x="77.69" y="252.70" font-family="'Liberation Serif', serif" font-size="19.0" textLength="8.99" lengthAdjust="spacingAndGlyphs">a</text>
<text x="87.64" y="253.10" font-family="'Liberation Serif', serif" font-size="22.2" textLength="5.64" lengthAdjust="spacingAndGlyphs">)</text>
<text x="340.32" y="254.10" font-family="'Liberation Serif', serif" font-size="22.2" textLength="5.75" lengthAdjust="spacingAndGlyphs">(</text>
<text x="347.80" y="254.00" font-family="'Liberation Serif', serif" font-size="19.0" textLength="9.78" lengthAdjust="spacingAndGlyphs">b</text>
<text x="357.69" y="254.10" font-family="'Liberation Serif', serif" font-size="22.2" textLength="5.64" lengthAdjust="spacingAndGlyphs">)</text>
<text x="69.72" y="522.90" font-family="'Liberation Serif', serif" font-size="22.2" textLength="5.75" lengthAdjust="spacingAndGlyphs">(</text>
<text x="76.50" y="522.80" font-family="'Liberation Serif', serif" font-size="19.0" textLength="7.81" lengthAdjust="spacingAndGlyphs">c</text>
<text x="84.99" y="522.90" font-family="'Liberation Serif', serif" font-size="22.2" textLength="5.64" lengthAdjust="spacingAndGlyphs">)</text>
<text x="339.97" y="522.90" font-family="'Liberation Serif', serif" font-size="22.2" textLength="5.75" lengthAdjust="spacingAndGlyphs">(</text>
<text x="346.46" y="522.10" font-family="'Liberation Serif', serif" font-size="19.0" textLength="9.12" lengthAdjust="spacingAndGlyphs">d</text>
<text x="357.19" y="522.90" font-family="'Liberation Serif', serif" font-size="22.2" textLength="5.64" lengthAdjust="spacingAndGlyphs">)</text>
<text x="143.39" y="578.30" font-family="'Liberation Serif', serif" font-size="19.0" textLength="117.58" lengthAdjust="spacingAndGlyphs">(powered exp)</text>
<text x="412.19" y="578.30" font-family="'Liberation Serif', serif" font-size="19.0" textLength="117.58" lengthAdjust="spacingAndGlyphs">(powered exp)</text>
<path d="M263.90,41.60H276.10M270.00,35.50V47.70" stroke="#000" stroke-width="1.0" fill="none"/>
<path d="M532.40,41.60H544.60M538.50,35.50V47.70" stroke="#000" stroke-width="1.0" fill="none"/>
<path d="M265.40,310.30H276.70" stroke="#000" stroke-width="1.0" fill="none"/>
<path d="M533.90,310.30H545.20" stroke="#000" stroke-width="1.0" fill="none"/>
<path transform="translate(0,0)" d="M127.0,572.9C127.8,570.6 129.6,569.9 130.6,570.1C132.2,570.4 133.3,572.6 134.1,575.2M136.7,570.0C135.8,572.0 134.6,574.2 134.1,575.2C133.3,577.5 132.8,579.8 132.3,581.8" stroke="#000" stroke-width="1.25" fill="none" stroke-linecap="round"/>
<path transform="translate(268.8,0)" d="M127.0,572.9C127.8,570.6 129.6,569.9 130.6,570.1C132.2,570.4 133.3,572.6 134.1,575.2M136.7,570.0C135.8,572.0 134.6,574.2 134.1,575.2C133.3,577.5 132.8,579.8 132.3,581.8" stroke="#000" stroke-width="1.25" fill="none" stroke-linecap="round"/>
<g transform="translate(14.8,222.40) rotate(-90)"><text x="-0.11" y="0.00" font-family="'Liberation Serif', serif" font-size="19.3" textLength="104.10" lengthAdjust="spacingAndGlyphs">marginal log</text><g transform="translate(110.6,0)"><path d="M8.7,-13.3C7.5,-13.0 6.0,-11.8 5.0,-10.2C3.8,-8.0 2.8,-5.0 1.9,-2.2L0.4,-0.5" stroke="#000" stroke-width="1.45" fill="none" stroke-linecap="round"/><path d="M1.9,-2.2C3.0,-1.2 5.0,-0.9 7.0,-1.0C8.8,-1.2 10.2,-1.8 11.3,-2.9" stroke="#000" stroke-width="1.3" fill="none" stroke-linecap="round"/><circle cx="9.9" cy="-12.1" r="1.25" fill="#000"/></g><line x1="124.5" y1="4.3" x2="133.3" y2="-14.4" stroke="#000" stroke-width="1.05"/><g transform="translate(134.2,0)"><path d="M8.7,-13.3C7.5,-13.0 6.0,-11.8 5.0,-10.2C3.8,-8.0 2.8,-5.0 1.9,-2.2L0.4,-0.5" stroke="#000" stroke-width="1.45" fill="none" stroke-linecap="round"/><path d="M1.9,-2.2C3.0,-1.2 5.0,-0.9 7.0,-1.0C8.8,-1.2 10.2,-1.8 11.3,-2.9" stroke="#000" stroke-width="1.3" fill="none" stroke-linecap="round"/><circle cx="9.9" cy="-12.1" r="1.25" fill="#000"/></g><text x="146.92" y="6.00" font-family="'Liberation Serif', serif" font-size="13.3" textLength="24.25" lengthAdjust="spacingAndGlyphs">max</text></g>
<g transform="translate(14.8,490.90) rotate(-90)"><text x="-0.11" y="0.00" font-family="'Liberation Serif', serif" font-size="19.3" textLength="104.10" lengthAdjust="spacingAndGlyphs">marginal log</text><g transform="translate(110.6,0)"><path d="M8.7,-13.3C7.5,-13.0 6.0,-11.8 5.0,-10.2C3.8,-8.0 2.8,-5.0 1.9,-2.2L0.4,-0.5" stroke="#000" stroke-width="1.45" fill="none" stroke-linecap="round"/><path d="M1.9,-2.2C3.0,-1.2 5.0,-0.9 7.0,-1.0C8.8,-1.2 10.2,-1.8 11.3,-2.9" stroke="#000" stroke-width="1.3" fill="none" stroke-linecap="round"/><circle cx="9.9" cy="-12.1" r="1.25" fill="#000"/></g><line x1="124.5" y1="4.3" x2="133.3" y2="-14.4" stroke="#000" stroke-width="1.05"/><g transform="translate(134.2,0)"><path d="M8.7,-13.3C7.5,-13.0 6.0,-11.8 5.0,-10.2C3.8,-8.0 2.8,-5.0 1.9,-2.2L0.4,-0.5" stroke="#000" stroke-width="1.45" fill="none" stroke-linecap="round"/><path d="M1.9,-2.2C3.0,-1.2 5.0,-0.9 7.0,-1.0C8.8,-1.2 10.2,-1.8 11.3,-2.9" stroke="#000" stroke-width="1.3" fill="none" stroke-linecap="round"/><circle cx="9.9" cy="-12.1" r="1.25" fill="#000"/></g><text x="146.92" y="6.00" font-family="'Liberation Serif', serif" font-size="13.3" textLength="24.25" lengthAdjust="spacingAndGlyphs">max</text></g>
</svg></body></html>
